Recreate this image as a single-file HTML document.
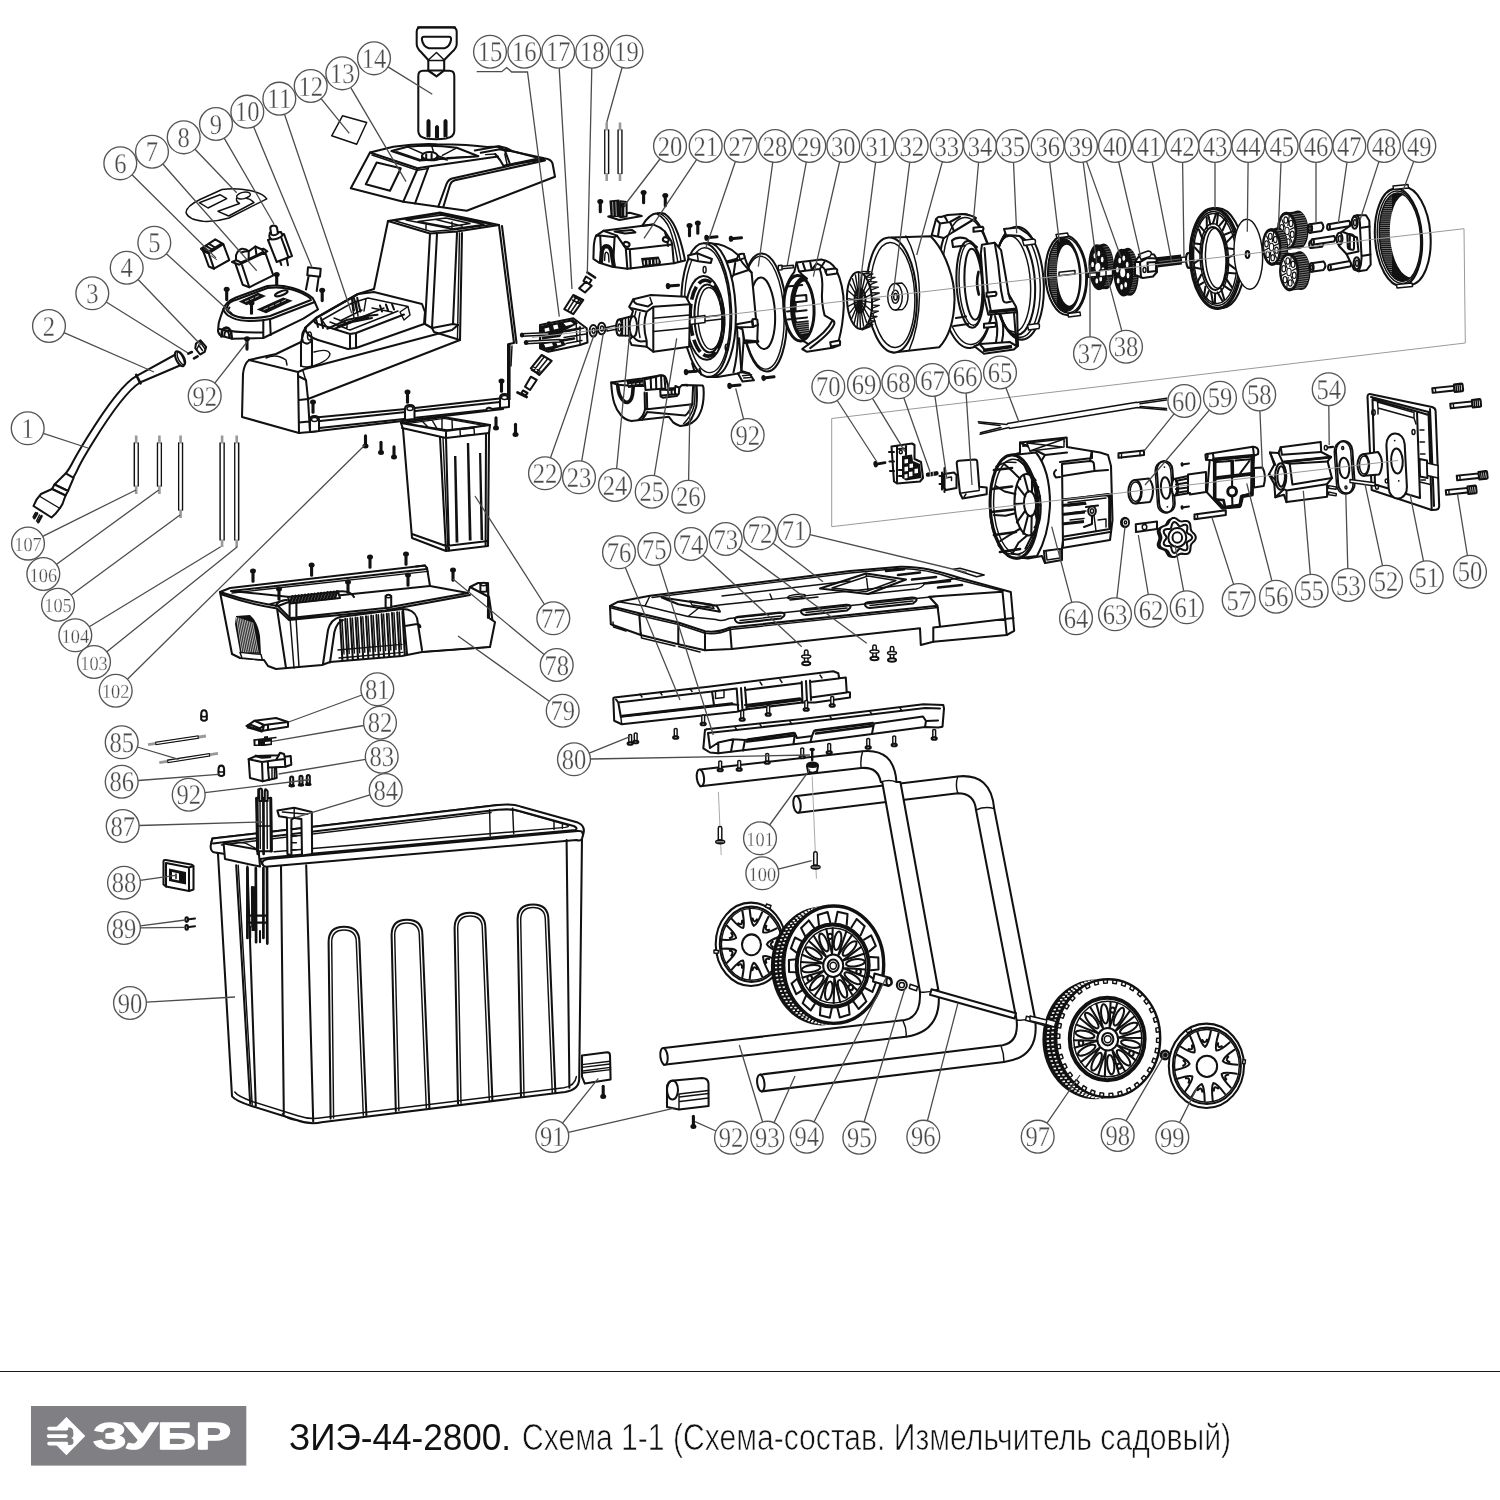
<!DOCTYPE html>
<html lang="ru"><head><meta charset="utf-8"><title>ЗИЭ-44-2800. Схема 1-1</title>
<style>
html,body{margin:0;padding:0;background:#fff;}
body{width:1500px;height:1500px;overflow:hidden;position:relative;font-family:"Liberation Sans",sans-serif;}
svg{position:absolute;left:0;top:0;display:block;}
.gs{filter:grayscale(1);}
.k{fill:none;stroke:#111;stroke-width:1.45;stroke-linecap:round;stroke-linejoin:round;}
.k2{fill:none;stroke:#111;stroke-width:2.05;stroke-linecap:round;stroke-linejoin:round;}
.k3{fill:none;stroke:#111;stroke-width:2.7;stroke-linecap:round;stroke-linejoin:round;}
.t{fill:none;stroke:#222;stroke-width:0.9;stroke-linecap:round;stroke-linejoin:round;}
.w{fill:#fff;stroke:#111;stroke-width:1.45;stroke-linecap:round;stroke-linejoin:round;}
.w2{fill:#fff;stroke:#111;stroke-width:2.05;stroke-linecap:round;stroke-linejoin:round;}
.b{fill:#111;stroke:none;}
.ld{fill:none;stroke:#4c4c4c;stroke-width:1.3;}
.lc{fill:#fff;fill-opacity:0;stroke:#555;stroke-width:1.35;}
.ln{font-family:"Liberation Serif",serif;font-size:28.5px;fill:#4a4a4a;text-anchor:middle;stroke:#fff;stroke-width:0.3;text-rendering:geometricPrecision;}
.gb{fill:none;stroke:#9a9a9a;stroke-width:1;}
</style></head><body>
<svg width="1500" height="1500" viewBox="0 0 1500 1500">
<rect width="1500" height="1500" fill="#fff"/>
<!-- 00_defs.svg -->
<defs>
<!-- small vertical screw, head at origin, shaft down 10px -->
<g id="scr"><path d="M0 0.500V10.300" stroke="#111" stroke-width="3.100" stroke-linecap="round" fill="none"/><ellipse cx="0" cy="0" rx="3" ry="2.500" fill="#111"/></g>
<!-- small horizontal screw (axis-aligned w/ motor), head at origin, shaft to right -->
<g id="scrh"><path d="M0 0H10.5" stroke="#111" stroke-width="3" stroke-linecap="round" fill="none"/><ellipse cx="0" cy="0" rx="2.300" ry="3.100" fill="#111"/></g>
<g id="scru"><path d="M0 -0.500V-10.300" stroke="#111" stroke-width="3.100" stroke-linecap="round" fill="none"/><ellipse cx="0" cy="0" rx="3" ry="2.500" fill="#111"/></g>
</defs>
<!-- 01_cable.svg -->
<g id="cable">
<!-- cable 1 -->
<path class="k2" d="M136.7 375.8C123 383 106 407 86.7 438.3S73 464 65.8 473.3"/>
<path class="k2" d="M140 382.5C128 390 113 410 93.3 441.7S80 467 73.3 477.5"/>
<!-- sleeve 2 -->
<path class="k2" d="M136.7 375.8L175.5 354.5M140 382.5L181 365"/>
<path class="k3" d="M136.2 375L140.5 383.3"/>
<ellipse class="w2" cx="179.8" cy="358.8" rx="3.6" ry="8.2" transform="rotate(-27 179.8 358.8)"/>
<ellipse class="k" cx="181.3" cy="358.2" rx="3" ry="7.2" transform="rotate(-27 181.3 358.2)"/>
<!-- plug -->
<path class="w2" d="M65.8 473.3L54.5 484.5L68 491L73.6 477.8Z"/>
<path class="w2" d="M54.5 484.5L52 489L65.5 495.5L68 491Z"/>
<path class="w2" d="M52 489L41 494Q36 499 33.5 506L51.5 517.5Q58 512 62.5 504L65.5 495.5Z"/>
<path class="k" d="M40 496.5L60 508.5"/>
<path class="k3" d="M37 513.5L34.3 518.2M41.5 516.2L38.2 522"/>
<path class="k" d="M35.5 512.5L33 517M39.5 515L36.5 521" stroke="#fff" stroke-width=".7"/>
<!-- screws 3 / nut 4 -->
<path d="M188.3 353.6l3.6 -1.6M194 358.4l3.6 -2" stroke="#111" stroke-width="2.6" stroke-linecap="round" fill="none"/>
<path class="w2" d="M196 343.5l4.5 -3.2l5.6 6.6l-1.4 5l-4.6 2.6l-4.8 -6.4z"/>
<path class="k" d="M198.5 345l4 5.5M200.5 342.5l4.2 6.2M197 349l2 -4"/>
<!-- wires 103-107 -->
<g stroke="#999" stroke-width="2.6" fill="none"><path d="M136.2 435.5V494M159.4 435.5V494M180.6 435.5V518M222.1 435.5V547M236.7 435.5V547"/></g>
<g class="k"><path d="M134.3 443V486M138.2 443V486M157.5 443V486M161.3 443V486M178.7 443V510M182.5 443V510M220.1 443V540M224.1 443V540M234.8 443V540M238.7 443V540"/></g>
<g stroke="#fff" stroke-width="2.2" fill="none"><path d="M136.2 443.5V485.5M159.4 443.5V485.5M180.6 443.5V509.5M222.1 443.5V539.5M236.7 443.5V539.5"/></g>
</g>
<!-- 02_switches.svg -->
<g id="switches">
<!-- 8 label plate -->
<path class="k" d="M186 212.5Q186.500 206 200 199.500L222 189.500Q236 187.500 250 190.500Q263 193.500 266.800 198.800L229 218Q216 222 203 221.300Q188 219.500 186 212.500Z"/>
<path class="k" d="M199.300 202.700L220 194.700L226.700 198.700L208 208ZM218 211.300L239.500 203.500Q236 201.500 236.500 198.500 M218 211.300L228.700 216L254 202.500Q250 198.800 247 198.500"/>
<ellipse class="k" cx="243.500" cy="195.500" rx="7" ry="3.200" transform="rotate(-12 243.500 195.500)"/>
<!-- 6 rocker switch -->
<path class="w2" d="M203.300 251.300L208.800 266.500L214 268.700L229.300 260L223.300 244.200L215.300 239.300L201.300 248.700Z"/>
<path class="k2" d="M208.700 253.300L214 268.700M208.700 253.300L223.300 244.200M208.700 253.300L203.300 251.300M201.300 248.700L208.700 253.300"/>
<path class="k2" d="M201.300 249L207 252.500L222 243.500M203 247.500L209.500 251.500M206 245.800L212 249.500M209 243.800L215 247.500"/>
<path class="t" d="M211.500 256L216.500 259.500"/>
<!-- 7 switch -->
<path class="w2" d="M235.300 263.300L242.700 284.700L249.300 287.300L273.300 275.300L265.300 252.700Z"/>
<path class="k2" d="M242 265L249.300 287.300"/>
<path class="w2" d="M232 262L239.300 264.700L267.300 251.300L263.300 248.700Z"/>
<path class="w2" d="M236 260V255.300Q238 249.500 242 248.700Q246 248.500 248.700 251.300L255.300 246.500L262 249.500L263.300 252L248 259.500L241 262.500Z"/>
<path class="k2" d="M248.700 251.300V258.500M241.500 252.500Q245 251 248.700 251.300M255.300 246.500L256.500 255"/>
<!-- 9 push button -->
<path class="w2" d="M268 240L284 234L292 256L276.700 262Z"/>
<path class="k2" d="M280.500 235.500L288.500 257.500M284.500 246L286.500 251.500"/>
<path class="w2" d="M269.500 234.500Q268.500 238 272 239.500Q278 239.500 282.500 235.500L281 232L270 232.500Z"/>
<path class="w2" d="M270.300 228.500Q270 226 273.500 225.500Q276.500 225.500 277 228L278 233.500Q274 236.500 271.300 234.500Z"/>
<path class="k2" d="M280 260.700L281.300 265M286.700 258.500L288 265.300"/>
<!-- 10 capacitor -->
<path class="k2" d="M308 267.300L320.700 268.700L320 276.700L307.300 275.300ZM308.700 275.500L306 289.500M318.700 276.700L316.700 291"/>
<!-- 5 cover -->
<path class="w2" d="M223.300 309.300Q220 318 218.700 323.300L218 331.300Q219 335 221.300 336L232.700 338.700L263.300 338L303.300 318.700L318 309.300L314.700 302L312.700 298Q305 291.500 292.700 288Q280 284.500 267.300 286L236 297.500Q226 301.500 223.300 309.300Z"/>
<path class="k2" d="M223.300 309.300Q224 312 228 315.500Q236 320.500 246 320.700Q259 321.500 271.300 318.700L314.700 302"/>
<path class="k2" d="M226 308.500Q227 311.500 231 314Q238 318 247 318Q259 318.500 270 316L311 300M227 307.500Q228 301.500 237 299.500L267.500 288Q280 286.500 292 289.500Q303 292.500 310.500 298.500"/>
<path class="k2" d="M263.300 320.300V337.500M270 318.900L270.700 335M219.500 329Q235 333 262.500 332.500"/>
<path class="k3" d="M221.500 336.500Q221.500 327.500 226.500 327.500Q231.500 328 231.800 338.500"/>
<path class="k2" d="M224.300 336Q224.500 331 226.800 331Q229 331.500 229.300 337.500"/>
<path class="b" d="M238.700 301.500L258 292.800L266 296L246.700 305.300Z"/>
<path d="M245 301.800L259 295.600" stroke="#fff" stroke-width="0.700" stroke-dasharray="4 1.500" fill="none"/>

<path class="b" d="M256.700 309.500L283.300 297.500L292.700 300.700L266 313.300Z"/>
<path d="M263.500 309.800L286 299.800" stroke="#fff" stroke-width="0.700" stroke-dasharray="5 1.500" fill="none"/>

<ellipse class="k2" cx="281.300" cy="293.300" rx="6.700" ry="2" transform="rotate(-20 281.300 293.300)"/>
<path class="k2" d="M227.500 310.500L229.500 307.500M228 310.500L231.500 313.500"/>
<use href="#scr" x="226.700" y="289.300"/><use href="#scr" x="276.700" y="274.500"/><use href="#scr" x="322.200" y="290.300"/><use href="#scr" x="251.500" y="303"/><use href="#scr" x="247" y="338.800"/>
</g>
<!-- 03_top.svg -->
<g id="top">
<!-- 14 pusher -->
<path class="w2" d="M420.500 27.500H452.500Q456.700 27.500 456.700 32V44Q456.700 48 452 52L444.200 60V70.500H428.300V60L421 52Q416.700 48 416.700 44V32Q416.700 27.500 420.500 27.500Z"/>
<path class="k2" d="M418 27.200H455" stroke-width="2.600"/>
<path class="k2" d="M424 36.700H449Q451.500 36.700 451 40Q450 46.500 444.500 48.300H429Q423 46.500 422 40Q421.500 36.700 424 36.700Z"/>
<path class="k" d="M428.300 60L436.500 52.500L444.200 60M428.300 60.500H444.200M428.300 70L436.500 76L444.200 70"/>
<path class="w2" d="M423 70.800H428.500L436.500 76.500L444 70.800H449.500Q454.300 70.800 454.300 76V131Q454.300 137 446 138.500Q436 140 426 138.500Q418.300 137 418.300 131V76Q418.300 70.800 423 70.800Z"/>
<path class="k2" d="M427.500 136.500V121Q428.500 119 429.500 121V136.500M436 137.500V127Q437 125 438 127V137.500M444.500 136.500V121Q445.500 119 446.500 121V136.500"/>
<!-- 12 label -->
<path class="k" d="M342.500 115.800L366.700 122.500L356.700 144.200L331.700 135.800Z"/>
<!-- 13 top cover -->
<path class="w2" d="M370 152.500L393.300 146.700Q415 143.500 436.700 144.200Q470 144.500 487 147L499.500 146.500L503.500 149.500L544.200 158.300Q551 159 552.500 163.300L555 176.700L466.700 210.800L438.300 206.700L403.300 201.700L350.800 188.300Z"/>
<path class="k2" d="M370 152.500L417.500 168.300L428.300 166.500L498 156.500"/>
<path class="k" d="M372 155L417.500 170.300L428.300 168.500"/>
<path class="k2" d="M417.500 169L403.300 201.700M428.300 167.500L415 203.500M443.300 207L450 185Q451.500 181 455 180.300L545 160.500M438.300 206.700L446.500 184Q448.500 179.500 452 178.500L543 158.300"/>
<path class="k2" d="M376.700 162.500L400.800 168.300L390 190.800L365.800 184.200Z"/>
<path class="k2" d="M 391.4 151.0 L 419.6 160.6 L 478.4 156.2 L 456.8 147.8 Q 431.6 144.2 407.6 146.8 Z"/>
<path class="k" d="M 407.6 146.8 L 423.8 154.0 M 431.6 145.4 L 433.4 151.8 M 456.8 147.8 L 442.4 155.4 M 419.6 160.6 L 423.8 157.8 M 478.4 156.2 L 447.2 157.8 M 396.8 151.6 L 419.6 159.4"/>
<ellipse class="w2" cx="429.800" cy="155.800" rx="7.800" ry="3.900"/>
<path class="k2" d="M 422.0 155.8 L 422.0 159.0 Q 429.8 161.4 437.6 159.4 L 437.6 155.8 M 426.2 154.6 L 426.2 159.4 M 431.6 154.0 L 431.6 160.0"/>
<path class="k" d="M 437.6 157.6 L 447.2 160.0 M 437.6 155.8 L 444.8 158.2"/>
<path class="k2" d="M 474.8 150.4 L 498.8 146.2 L 506.0 148.0 L 512.0 151.0 L 544.4 159.4 M 480.8 152.8 L 500.0 149.2 L 504.8 150.4 L 509.6 163.0 M 495.2 154.0 L 500.0 160.0 L 503.6 166.0 L 507.2 164.8 L 542.0 160.0 M 500.0 149.2 L 498.8 146.2 M 504.8 150.4 L 512.0 151.0"/>
<path class="k" d="M 507.2 164.8 L 504.8 154.0 M 512.0 163.6 L 536.0 158.8 M 485.6 154.6 L 495.2 154.0"/>
<!-- 15/16 bracket -->
</g>
<!-- 04_housing.svg -->
<g id="housing">
<!-- tower -->
<path class="w2" d="M388 221L440 212.400L499 225L514 343L509 344V398L504 398L503 409L310 432L299 433L242 417L243 374Q244 364 249 360L276 354L301 342L305 328L316 318L358 294L374 289Z"/>
<path class="k2" d="M388 221L430 233.600L457 231.600L499 225M430 234L425 324M437 234L432 328M457 233L453 324M462 233L460 340M502 226L516.500 343"/>
<path class="k" d="M394 220.500L440 213.500L492 224.500L456 229.500L431 231.500ZM406 220L442 215L484 224.500L452 229ZM418 221.500L446 218L470 223.500L448 227ZM426 224.500V229M452 222V228M436 219.500L462 226"/>
<path class="k" d="M459.500 233L457.500 338"/>
<!-- step / bevel -->
<path class="k2" d="M425 324L432 328L453 324L458 325M432 328L434 332L460 340M424 324L356 348L348 349L318 340"/>
<!-- top front edge of lower body -->
<path class="k2" d="M249 360L298 372L305 369L452 330L458 325M298 372L299 433M298 376L306 380L308 399L460 340M308 399L310 432M299 400L308 399M299 422.500L309 421.500"/>
<path class="k" d="M303 371L306 381"/>
<!-- switch box -->
<path class="k2" d="M305 328L316 318L358 294L374 292L422 304L425 312L424 324M318 340Q306 336 305 328M318 324L350 334L356 333L404 314.500M316 318Q312 323 318 324M350 334V348M356 333V347.500"/>
<path class="k" d="M322 320L352 303L368 298L408 306.500L400 312L404 320M408 306.500L410 315L404 320M352 303L354 318M356 301L358 316M322 320L326 326M330 322L350 330L398 311M334 318L347 323L384 308M347 323V329M340 321L362 310M344 325L370 314M366 299L364 311M372 308L392 312M386 305L388 310"/>
<path class="k2" d="M316 319L318 327M321 318L323 328M327.300 328.700L346.500 320.100L366.800 315.900L377.500 314.800M334 329L352 322L372 318M351.900 298.800L354 310.500M357.200 297.700L360.400 311.600M354 298.300L357 311M380 305.500L382 311.500M386 304.500L388 310.500M392 304L394 309.500"/><path class="k3" d="M338 326.500L350 322M356 319.500L368 317.500"/>
<!-- cord inlet cylinder & recesses -->
<path class="k2" d="M301 342V366M312 340V366M306 328Q300 334 303 342Q308 346 312 340"/>
<ellipse class="k" cx="309.500" cy="336" rx="2" ry="4"/>
<path class="k" d="M314 352Q328 348 330 354Q329 362 306 368M266 358Q276 353 286 360L287 365M301 366Q306 368 312 366"/>
<!-- bottom frame -->
<path class="k2" d="M310 418L406 409L504 398M320 421L406 412L500 402M319 428L404 419L486 410Q488 406 492 409L500 408"/>
<path class="w2" d="M310 432V420Q310 416 314.500 416Q319 416 319 420V431Z"/><ellipse class="k" cx="314.500" cy="419.500" rx="3" ry="2"/>
<path class="w2" d="M405 420V409Q405 405 410 405Q414.500 405 414.500 409V419Z"/><ellipse class="k" cx="410" cy="408.500" rx="3" ry="2"/>
<path class="w2" d="M500 408V398Q500 394 504.500 394Q509 394 509 398V407Z"/><ellipse class="k" cx="504.500" cy="397.500" rx="3" ry="2"/>
<path d="M508.800 343.500V400" stroke="#111" stroke-width="3.600" fill="none"/>
<path class="k" d="M512 346L511 366"/>
<use href="#scr" x="313" y="402"/><use href="#scr" x="407.500" y="392"/><use href="#scr" x="501.500" y="381"/>
<use href="#scru" x="365.500" y="446"/><use href="#scru" x="381" y="452.500"/><use href="#scru" x="394" y="457"/><use href="#scru" x="496" y="428"/><use href="#scru" x="515.500" y="434.500"/>
</g>
<!-- 05_motor_a.svg -->
<g id="motorA">
<!-- wires 19 -->
<path d="M606.700 122.500V181M620 122.500V181" stroke="#999" stroke-width="2.600" fill="none"/>
<path class="k" d="M604.800 130V173.500M608.600 130V173.500M618.100 130V173.500M621.900 130V173.500"/>
<path d="M606.700 130.500V173M620 130.500V173" stroke="#fff" stroke-width="2.200" fill="none"/>
<!-- 20 bracket -->
<path class="w2" d="M 608.2 216.4 L 629.8 212.8 L 641.8 216.0 L 619.4 220.0 Z"/>
<path class="b" d="M 609.4 200.4 L 619.4 199.6 L 620.2 217.2 L 610.6 216.8 Z"/>
<path d="M 612.6 202.0 L 613.2 215.6 M 615.8 201.6 L 616.4 216.0" stroke="#fff" stroke-width="0.600" fill="none"/>
<path class="w2" d="M 620.2 201.2 L 626.6 202.0 L 626.6 216.4 L 620.2 217.2 Z"/>
<use href="#scr" x="600.300" y="201.500"/><use href="#scr" x="643.600" y="192.500"/><use href="#scr" x="665.300" y="195.500"/><use href="#scr" x="622.800" y="205"/><use href="#scr" x="689.500" y="225.500"/><use href="#scr" x="697.800" y="223"/>
<!-- 21 brush cover: disc behind -->
<path class="w2" d="M 642.6 225.2 Q 649.0 214.0 657.0 213.2 Q 661.8 212.4 665.0 214.0 Q 671.4 218.8 675.4 227.6 Q 681.0 239.6 685.0 260.4 L 673.8 263.2 L 641.0 238.0 Z"/>
<path class="k" d="M 660.2 213.4 Q 668.2 218.0 672.6 228.4 Q 677.8 241.2 681.0 261.2 M 657.0 214.0 Q 665.0 218.0 669.8 229.2 Q 674.6 242.0 677.8 262.0"/>
<!-- 21 box -->
<path class="w2" d="M 603.4 230.8 L 641.0 226.0 L 653.0 224.4 Q 660.2 226.8 665.0 231.6 L 671.4 241.2 L 672.2 244.4 L 673.8 263.2 L 627.4 268.8 L 612.2 266.8 L 599.4 262.8 L 593.4 258.8 L 593.8 246.0 Q 594.6 238.0 596.2 235.6 Z"/>
<path class="k2" d="M 672.2 244.4 L 629.8 249.2 L 625.8 248.4 L 617.0 235.6 L 603.4 230.8 M 625.8 248.4 L 627.4 268.8 M 629.8 249.2 L 630.8 268.4 M 600.2 235.6 L 601.4 262.0 M 614.6 237.2 L 613.0 266.0 M 617.0 235.6 L 614.6 237.2 L 600.2 235.6 L 596.2 235.6 M 653.0 224.4 L 641.0 226.0 M 614.6 231.6 L 632.2 230.0 L 635.4 232.4 L 625.0 233.6 Z M 665.0 231.6 L 668.2 246.0"/>
<path d="M 601.0 262.0 L 601.8 251.6 Q 603.0 246.4 606.2 246.2 Q 610.2 246.4 611.4 251.6 L 613.8 266.0" stroke="#111" stroke-width="4.200" fill="none" stroke-linecap="round"/>
<path class="k" d="M 604.6 260.4 L 605.0 254.0 Q 605.6 252.0 607.0 252.4 Q 608.4 253.2 608.6 255.6 L 609.0 262.0"/>
<path class="b" d="M 641.0 258.0 L 658.6 256.4 L 661.0 262.0 L 660.2 265.2 L 642.6 266.8 Z"/>
<path d="M 644.2 260.4 L 644.4 264.8 M 647.8 260.1 L 648.0 264.5 M 651.4 259.8 L 651.6 264.2 M 655.0 259.4 L 655.2 263.8 M 657.8 259.2 L 658.0 263.4" stroke="#fff" stroke-width="1.100" fill="none"/>
<ellipse class="w2" cx="626.600" cy="244.400" rx="3" ry="2.300" transform="rotate(20 626.600 244.400)"/><ellipse class="w2" cx="665.800" cy="239.600" rx="3" ry="2.300" transform="rotate(20 665.800 239.600)"/>
<!-- 17/18 upper brushes -->
<path class="k3" d="M587.500 272.500L595 277.500"/>
<path class="w2" d="M586 276.500L591.500 280L588.500 284.500L583.500 281Z"/>
<path class="w2" d="M579.200 288.300L585.800 281.700L591.700 285.800L585 292.500Z"/>
<path class="w2" d="M564.200 309.200L573.300 295L583.300 300L573.300 314.200Z"/>
<path class="k" d="M567.500 311L576.500 296.500M570.500 312.500L580 298.500M574 297L581 300.500L579 303.500L572.500 300"/>
<!-- lower brushes -->
<path class="w2" d="M530.800 368.300L541.700 355L551.700 360.800L539.200 375Z"/>
<path class="k" d="M534 370L544.500 356.500M537 372L548 358.500M531.500 370L538 373.500L540 371L533.500 367"/>
<path class="w2" d="M525 386.700L530.800 376.700L536.700 380L530 390Z"/>
<path class="w2" d="M523 390.500L527.500 393L525.500 395.500L521.500 393Z"/>
<path class="k3" d="M517.500 392.500L526.700 397"/>
<!-- 16 brush holder -->
<path class="w2" d="M540 325L573.300 318.300L586.700 328.300L587.500 342.500L580 345L548.300 351.700L540 348.300Z"/>
<path class="b" d="M540 326L573 319L578 323.500L564 331L560 337L542 339.500ZM541 342L562 339L566 345L548.500 351L541 348Z"/>
<path d="M544.500 328.500L549 327.500L549.500 331L545 332ZM553 325.500L557.500 324.500L558.500 328.500L554 329.500ZM563.500 323L571 321.700L573.500 324L566 326ZM544 344L552 342.700L553 346L545.500 347.500ZM556 342L560 341.500L561.500 344.500L557.500 345.500Z" fill="#fff"/>
<circle cx="549" cy="323.500" r="2.200" fill="#111"/><circle cx="552.500" cy="349" r="2.200" fill="#111"/>
<path class="k" d="M562 332L584 328M564 337.500L586 334M566 343.500L582 340.500M576 321L577 341M580 326.500V345"/>
<path class="k3" d="M566 331L580 328.500M562 340.500L574 338.500"/>
<path class="w" d="M522 333.800L549 332.500V335L522 336.300ZM526 341.300L560 339.500V342L526 343.800Z"/>
<ellipse class="b" cx="522" cy="335" rx="2.200" ry="2.600"/><ellipse class="b" cx="526" cy="342.500" rx="2.200" ry="2.600"/>
<!-- washers 22 23 -->
<ellipse class="w2" cx="593.300" cy="330.800" rx="3.700" ry="5.800"/><ellipse class="k" cx="593.600" cy="330.800" rx="1.500" ry="2.500"/>
<ellipse class="w2" cx="601.700" cy="328.500" rx="3.700" ry="5.800"/><ellipse class="k" cx="602" cy="328.500" rx="1.500" ry="2.500"/>
</g>
<!-- 05_motor_b.svg -->
<g id="motorB">
<!-- 28 disc (behind 27) -->
<ellipse class="w2" cx="764.200" cy="312.500" rx="22.500" ry="59" transform="rotate(-3 764.200 312.500)"/>
<ellipse class="k" cx="763.200" cy="312.700" rx="20.700" ry="56.500" transform="rotate(-3 763.200 312.700)"/>
<ellipse class="k2" cx="762.500" cy="313.300" rx="12.500" ry="35.800" transform="rotate(-3 762.500 313.300)"/>
<!-- 27 body (right part) -->
<path class="w2" d="M 707.4 243.7 Q 724.4 242.0 738.0 255.0 L 743.7 253.9 L 744.8 257.9 L 749.3 269.8 L 751.6 272.6 L 756.1 320.2 L 757.8 324.7 L 757.3 339.5 L 758.4 341.7 L 744.8 342.9 L 743.7 339.5 L 741.4 372.3 L 749.3 373.5 L 753.9 380.3 L 742.5 381.4 L 738.0 373.5 L 717.6 376.9 L 707.4 376.9 Z"/>
<path class="k2" d="M 731.2 278.3 L 733.5 274.9 L 749.3 269.8 M 731.2 278.3 Q 729.5 299.8 733.5 322.5 L 736.9 327.0 L 742.5 329.3 L 744.8 342.9 M 733.5 274.9 L 735.2 263.0 M 738.0 255.0 Q 740.8 262.4 751.6 272.6 M 739.1 338.3 L 741.4 372.3 M 738.0 373.5 L 742.5 371.2 L 749.3 373.5 M 742.5 329.3 L 743.7 339.5 M 736.9 327.0 Q 739.1 349.7 733.5 372.3"/>
<path class="w2" d="M 726.7 261.5 L 736.9 258.7 L 738.9 254.7 Q 741.4 253.3 743.9 254.0 L 744.8 257.9 L 738.0 260.4 L 727.8 262.6 Z"/>
<path class="w2" d="M 735.2 324.4 L 751.6 321.6 L 752.7 319.3 Q 755.2 318.6 757.3 319.7 L 757.8 324.7 L 752.7 327.0 L 738.0 327.2 Z"/>
<path class="k" d="M 738.9 254.7 L 740.0 259.6 M 752.7 319.3 L 753.6 326.8 M 736.9 258.7 L 738.0 260.4 M 751.6 321.6 L 752.7 327.0"/>
<path d="M 745.0 340.8 L 758.2 341.7" stroke="#111" stroke-width="3" fill="none"/>
<path class="k" d="M 742.5 375.7 L 751.6 374.8 M 743.7 378.0 L 752.5 377.4"/>
<ellipse class="w2" cx="710.800" cy="309.500" rx="24.900" ry="66.900" transform="rotate(-2.500 710.800 309.500)"/>
<ellipse class="w2" cx="706.300" cy="310" rx="24.900" ry="66.900" transform="rotate(-2.500 706.300 310)"/>
<ellipse class="k" cx="707.300" cy="310.200" rx="22.600" ry="62.500" transform="rotate(-2.500 707.300 310.200)"/>
<ellipse class="w2" cx="705.100" cy="317.900" rx="19.300" ry="41.900" transform="rotate(-2.500 705.100 317.900)"/>
<ellipse cx="706.800" cy="318.200" rx="16.600" ry="38" transform="rotate(-2.500 706.800 318.200)" fill="none" stroke="#111" stroke-width="3.600" stroke-dasharray="14 4"/>
<ellipse class="k2" cx="708.500" cy="318.500" rx="14" ry="34" transform="rotate(-2.500 708.500 318.500)"/>
<ellipse class="k" cx="710" cy="318.500" rx="12" ry="31" transform="rotate(-2.500 710 318.500)"/>
<path class="w2" d="M 688.1 255.6 L 697.2 253.3 L 711.9 259.0 L 710.8 263.0 L 698.3 261.3 L 688.7 259.0 Z"/><path class="k" d="M 697.2 253.3 L 698.3 261.3"/>
<ellipse class="k" cx="704.600" cy="269.800" rx="1.500" ry="3.200"/><ellipse class="k" cx="726.700" cy="347.400" rx="1.500" ry="3.200"/>
<path class="k2" d="M 692.1 363.3 L 694.4 371.2 M 699.5 368.9 L 701.2 374.6"/>
<!-- horizontal screws -->
<g transform="rotate(-5 712 237)"><use href="#scrh" x="706.500" y="237.300"/></g><g transform="rotate(-5 736 238)"><use href="#scrh" x="731" y="238.300"/></g>
<g transform="rotate(-5 672 285)"><use href="#scrh" x="668" y="285.700"/></g><g transform="rotate(-5 690 371)"><use href="#scrh" x="686" y="371.700"/></g>
<g transform="rotate(-5 734 385)"><use href="#scrh" x="729.500" y="385.500"/></g><g transform="rotate(-7 768 377)"><use href="#scrh" x="763.500" y="377.500"/></g>
<!-- 25 stator -->
<path class="w2" d="M629.200 306.700L633.300 299.200L650.800 295L685.800 296.700L690 304.200L689.200 346.700L653.300 351.700L646.700 346.700L631.700 345L629.200 340L633 336Q628 322 633 311Z"/>
<path class="k2" d="M631.700 308.300L646.700 311.700L653.300 306.700L690 304.200M653.300 306.700V351.700M633.300 299.200Q634 303 637 304L648 306.500L652 303.500M646.700 311.700Q642 325 646.700 341L646.700 346.700M633 336Q636 341 641 341.500L646.700 341"/>
<path class="k" d="M653.300 318.300L689.200 315M653.300 331.500L689.200 328M636 311Q632 323 636 335M640 312.500Q637 324 640 337.500M650 297.500L652 303.500"/>
<!-- 24 rotor commutator -->
<path class="w" d="M606.700 327.500L616.700 325.300V329.300L607 331Z"/>
<path class="w2" d="M619.200 319.500L631.700 316.300L633.300 335.800L620 335.500Z"/>
<ellipse class="w2" cx="619.200" cy="327.500" rx="3" ry="8"/>
<ellipse class="k" cx="619.400" cy="327.500" rx="1.400" ry="3.600"/>
<ellipse class="w2" cx="633.300" cy="326.500" rx="3.700" ry="10.300"/>
<path class="k" d="M622.500 319V335.500M625.500 318.200V335.700M628.500 317.500V335.800"/>
<!-- shaft into 27 -->
<path class="w" d="M690 317.500L705 315.500V322.500L690 324.500Z"/><path class="k" d="M695 316.800V323.800M705 317L722 315M705 321L722 319"/>
<!-- 29 screw -->
<path class="w" d="M778.300 265.500L782 265.200V269.700L778.300 270ZM782 266.200L793.300 265.200V267.700L782 268.700Z"/>
<!-- 30 shroud -->
<path class="w2" d="M 794.2 272.2 L 796.6 262.6 L 821.4 259.4 Q 831.0 261.0 835.8 269.0 Q 843.8 285.0 843.8 305.8 Q 843.0 325.0 839.0 339.4 L 839.8 345.0 L 832.6 347.8 L 807.0 351.8 L 802.2 349.0 L 808.6 344.2 Q 787.0 333.0 784.6 309.0 Q 783.0 285.0 794.2 272.2 Z"/>
<path class="w2" d="M 825.4 271.8 Q 825.0 269.8 827.0 269.4 L 835.0 268.4 Q 837.0 268.4 837.2 270.2 L 837.0 273.4 L 827.0 275.0 Z"/>
<path class="w2" d="M 830.2 342.2 L 839.0 340.6 Q 840.2 340.6 840.2 342.2 L 839.8 345.0 L 831.0 346.6 Z"/>
<path class="k2" d="M 796.6 262.6 L 799.0 271.4 L 819.8 269.0 L 824.6 261.8 M 799.0 271.4 Q 802.2 275.4 807.0 278.6 M 819.8 269.0 Q 823.0 278.6 822.2 289.8 Q 821.0 301.0 824.6 315.4 L 832.6 320.2 Q 835.0 321.8 834.2 324.2 Q 831.0 333.0 810.2 348.2 M 832.6 320.2 Q 826.2 333.0 808.6 344.2 M 826.2 271.4 Q 823.0 265.8 816.6 263.4 M 803.0 263.4 L 805.4 270.6 M 810.2 262.2 L 811.8 269.8 M 811.8 269.8 L 816.6 263.4"/>
<ellipse cx="799" cy="308.200" rx="15" ry="32.800" transform="rotate(-3 799 308.200)" fill="#fff" stroke="#111" stroke-width="3"/>
<clipPath id="c30"><ellipse cx="799" cy="308.200" rx="14" ry="31.800" transform="rotate(-3 799 308.200)"/></clipPath>
<g clip-path="url(#c30)"><ellipse cx="805.500" cy="309" rx="13" ry="30" transform="rotate(-3 805.500 309)" fill="none" stroke="#111" stroke-width="5"/><path class="b" d="M 795.0 321.8 L 808.6 320.2 L 809.4 335.4 L 801.4 337.0 L 795.0 329.8 Z"/><path d="M 795.8 323.8 L 809.0 322.2 M 796.0 325.8 L 809.2 324.2 M 796.6 327.8 L 809.2 326.2 M 798.2 329.8 L 809.4 328.2 M 799.0 331.8 L 809.4 330.2 M 800.6 333.8 L 809.4 332.2" stroke="#fff" stroke-width="0.500" fill="none"/><path class="k2" d="M 787.0 286.6 L 802.2 285.0 M 791.8 296.2 L 806.2 295.0 L 806.6 301.0 L 795.0 302.2 Z M 787.0 311.4 L 795.0 310.6 M 787.8 319.4 L 807.0 317.4 M 795.8 302.2 L 795.4 311.4 L 806.6 310.2"/></g>
<!-- 26 lower cover -->
<path class="w2" d="M 611.2 382.5 L 626.4 380.4 L 642.0 378.6 L 656.7 376.0 Q 661.9 374.3 664.5 376.0 L 665.8 377.8 L 668.0 385.1 L 668.4 388.6 L 679.3 387.7 L 681.9 385.1 L 702.7 385.6 L 703.5 387.7 Q 704.4 399.0 701.8 408.5 Q 699.2 416.3 695.7 419.8 Q 691.4 424.1 687.1 425.0 L 680.1 425.9 Q 675.8 424.6 673.2 422.4 L 668.9 416.8 L 642.0 419.8 L 631.6 421.1 Q 624.7 419.8 621.2 415.5 Q 616.0 409.4 614.3 403.3 Q 611.7 394.7 611.2 382.5 Z"/>
<path d="M 617.7 384.7 Q 618.2 392.9 620.3 396.4 Q 623.4 402.5 627.3 402.5 Q 631.2 401.6 632.5 394.7 L 633.3 386.0" stroke="#111" stroke-width="3.600" fill="none" stroke-linecap="round"/>
<path class="k2" d="M 611.2 382.5 L 617.7 384.7 L 633.3 386.0 L 643.7 386.0 M 644.6 392.5 L 645.0 409.4 Q 643.7 416.3 638.5 419.8 M 646.8 392.9 L 647.2 408.5 M 645.0 409.4 L 692.3 404.2 M 647.2 412.0 L 685.3 415.5 Q 689.7 412.0 692.3 404.2 L 693.1 386.0 M 696.6 386.0 Q 697.5 398.1 696.2 406.8 Q 694.0 414.6 691.4 418.9 Q 688.8 423.3 685.3 424.6 M 642.0 419.8 Q 645.5 415.5 647.2 412.0"/>
<path class="k" d="M 694.9 386.0 Q 695.3 398.1 694.0 405.9 Q 691.8 415.5 683.6 423.7"/>
<path class="b" d="M 626.4 380.8 L 643.7 378.9 L 643.9 386.0 L 628.1 387.9 Z"/>
<path d="M 628.6 384.7 L 643.3 383.0" stroke="#fff" stroke-width="0.800" stroke-dasharray="2.500 1.500" fill="none"/>
<path class="w2" d="M 644.6 379.5 L 656.7 376.5 Q 661.9 374.7 664.4 376.5 L 665.4 388.6 L 645.5 389.9 Z"/>
<path class="k2" d="M 650.7 378.2 L 651.1 389.0 M 655.9 376.9 L 656.3 388.6 M 661.1 376.0 L 661.5 388.6"/>
<path class="w2" d="M 660.2 389.5 L 660.6 396.4 L 662.8 397.7 L 676.7 396.0 L 678.8 393.8 L 679.3 387.7 L 675.4 386.0 L 674.9 389.5 L 668.0 389.9 Z"/>
<path class="k2" d="M 668.0 389.9 L 668.4 394.7 M 671.5 389.9 L 671.6 394.2 M 674.9 389.5 L 675.1 393.8 M 661.1 395.5 L 676.7 394.2"/>
<path class="k" d="M 683.2 384.7 L 687.1 384.5 L 687.1 386.0"/>
</g>
<!-- 07_gearrow.svg -->
<g id="gearrow">
<ellipse class="w2" cx="1019.2" cy="283.2" rx="24.5" ry="56.5" transform="rotate(-3.0 1019.2 283.2)" />
<ellipse class="k" cx="1017.5" cy="283.4" rx="22.6" ry="54.0" transform="rotate(-3.0 1017.5 283.4)" />
<ellipse class="k2" cx="1014.5" cy="283.8" rx="20.5" ry="51.0" transform="rotate(-3.0 1014.5 283.8)" />
<ellipse class="k" cx="1012.0" cy="284.0" rx="18.5" ry="48.0" transform="rotate(-3.0 1012.0 284.0)" />
<path class="w2" d="M1004 229L1018 227.500L1028 234L1034 240.500L1030 243L1020 236L1006 235Z"/>
<path class="w" d="M1022.500 240.500L1033 239Q1035.500 239 1035.500 241.500L1035 244L1024 245.500Z"/>
<path class="w" d="M1027.500 325L1037.500 323.500Q1039.500 323.500 1039.500 326L1039 328.500L1028.500 330Z"/>
<ellipse class="w2" cx="966.5" cy="281.0" rx="27.5" ry="67.0" transform="rotate(-3.0 966.5 281.0)" />
<path class="w2" d="M931.700 235.200L936 219.200Q938 216 941 217L947.700 214.900L962.700 213.900Q972 215 976 218L953 232L944 238Z"/>
<path class="k2" d="M936 219.200L940 223.500L950 222L960 216.500M940 223.500L938 236M950 222L954 231M944.500 216.200L947 220.500"/>
<ellipse class="k" cx="968.0" cy="281.0" rx="25.5" ry="63.5" transform="rotate(-3.0 968.0 281.0)" />
<ellipse class="w2" cx="970.2" cy="284.3" rx="13.6" ry="43.5" transform="rotate(-3.0 970.2 284.3)" />
<ellipse class="k" cx="971.2" cy="284.3" rx="12.0" ry="41.0" transform="rotate(-3.0 971.2 284.3)" />
<ellipse class="k2" cx="973.4" cy="284.3" rx="8.8" ry="35.5" transform="rotate(-3.0 973.4 284.3)" />
<path class="k3" d="M978.500 272Q975.500 283 978.800 294.500"/>
<path class="w2" d="M981.900 244.800L994.700 242.700L1001.100 250.200L1005.400 274.700L1008.600 293.900L1016 306.700L1017.100 312L988.300 314.700L984 296L980.800 253.400Z"/>
<path class="k2" d="M994.700 242.700L998 262L1001 290L1003 300Q1004 303 1007 302.500L1011 301.500M984.500 248L988 296L991 312M1008.600 293.900L1010 299"/>
<path d="M989 312L1016.500 309.300" stroke="#111" stroke-width="3.400" fill="none"/>
<path class="w2" d="M973.5 227.8L982.5 226.8Q984.5 228.9 982.5 230.8L973.5 231.8Z"/>
<path class="w2" d="M986.5 292.8L995.5 291.8Q997.5 293.9 995.5 295.8L986.5 296.8Z"/>
<path class="w2" d="M984.0 323.8L995.0 322.8Q997.0 324.9 995.0 326.8L984.0 327.8Z"/>
<path class="k2" d="M952 240.500Q957 236 966 238.500L977 247M952 240.500L953 247L965 245.500M956 318L966 316.500M954 326L968 324"/>
<path class="w2" d="M1014 313L1016.500 346L1009.600 341.900L979.800 344.100L974.400 346.200L984 353.700L1013.900 349.400L1018 346L1017.100 312Z"/>
<path d="M983 350.500L1012 346.500" stroke="#111" stroke-width="3.600" fill="none"/>
<path class="k2" d="M979.800 344.100L984 349M995 316Q999 328 996 342M1001 315.500Q1005 328 1002 341.500"/>
<ellipse class="w2" cx="1066.1" cy="275.2" rx="20.8" ry="40.0" transform="rotate(-3.0 1066.1 275.2)" />
<ellipse class="k" cx="1066.8" cy="275.2" rx="19.0" ry="37.8" transform="rotate(-3.0 1066.8 275.2)" />
<clipPath id="c36"><ellipse cx="1064.500" cy="275" rx="16.200" ry="36.500" transform="rotate(-3 1064.500 275)"/></clipPath>
<g clip-path="url(#c36)"><rect x="1040" y="230" width="50" height="90" fill="#111"/><ellipse cx="1068" cy="275.200" rx="11" ry="30.500" transform="rotate(-3 1068 275.200)" fill="#fff"/>
<path d="M1046 241.0h11M1046 243.1h11M1046 245.2h11M1046 247.3h11M1046 249.4h11M1046 251.5h11M1046 253.6h11M1046 255.7h11M1046 257.8h11M1046 259.9h11M1046 262.0h11M1046 264.1h11M1046 266.2h11M1046 268.3h11M1046 270.4h11M1046 272.5h11M1046 274.6h11M1046 276.7h11M1046 278.8h11M1046 280.9h11M1046 283.0h11M1046 285.1h11M1046 287.2h11M1046 289.3h11M1046 291.4h11M1046 293.5h11M1046 295.6h11M1046 297.7h11M1046 299.8h11M1046 301.9h11M1046 304.0h11M1046 306.1h11M1046 308.2h11M1046 310.3h11" stroke="#fff" stroke-width="0.4" fill="none"/></g>
<ellipse class="k" cx="1064.5" cy="275.0" rx="16.2" ry="36.5" transform="rotate(-3.0 1064.5 275.0)" />
<path class="w" d="M1056 234.500L1067.500 233L1068.500 236.500L1057 238ZM1068 313.500L1080 312L1080.500 315.500L1068.500 317Z"/>
<path class="w" d="M1059 272.300L1075 270.500V274L1059 275.800Z"/>
<path class="b" d="M1097.8 244.7L1104.8 243.9L1104.8 288.9L1097.8 289.7Z"/>
<ellipse class="b" cx="1104.8" cy="266.4" rx="9.3" ry="23.0" transform="rotate(-3.0 1104.8 266.4)" />
<ellipse class="b" cx="1097.8" cy="267.2" rx="9.3" ry="23.0" transform="rotate(-3.0 1097.8 267.2)" />
<path d="M1103.3 247.1l5.0 -0.8M1104.7 249.5l5.0 -0.8M1105.8 251.9l5.0 -0.8M1106.5 254.3l5.0 -0.8M1107.1 256.7l5.0 -0.8M1107.5 259.1l5.0 -0.8M1107.8 261.5l5.0 -0.8M1108.0 263.9l5.0 -0.8M1108.1 266.3l5.0 -0.8M1108.1 268.7l5.0 -0.8M1108.0 271.1l5.0 -0.8M1107.7 273.5l5.0 -0.8M1107.4 275.9l5.0 -0.8M1107.0 278.3l5.0 -0.8M1106.3 280.7l5.0 -0.8M1105.5 283.1l5.0 -0.8M1104.4 285.5l5.0 -0.8" stroke="#fff" stroke-width="0.35" fill="none"/>
<ellipse cx="1103.0" cy="270.0" rx="1.4" ry="2.7" fill="#fff"/>
<ellipse cx="1100.7" cy="278.8" rx="1.4" ry="2.7" fill="#fff"/>
<ellipse cx="1096.8" cy="280.9" rx="1.4" ry="2.7" fill="#fff"/>
<ellipse cx="1093.4" cy="274.9" rx="1.4" ry="2.7" fill="#fff"/>
<ellipse cx="1092.6" cy="264.4" rx="1.4" ry="2.7" fill="#fff"/>
<ellipse cx="1094.9" cy="255.6" rx="1.4" ry="2.7" fill="#fff"/>
<ellipse cx="1098.8" cy="253.5" rx="1.4" ry="2.7" fill="#fff"/>
<ellipse cx="1102.2" cy="259.5" rx="1.4" ry="2.7" fill="#fff"/>
<ellipse cx="1097.8" cy="267.2" rx="2.5" ry="4.5" fill="#fff"/>
<path class="w" d="M1088.300 273.300L1096.500 272.500V276.500L1088.300 277.300Z"/>
<path class="b" d="M1122.7 249.1L1129.1 248.3L1129.1 295.3L1122.7 296.1Z"/>
<ellipse class="b" cx="1129.1" cy="271.8" rx="9.5" ry="24.0" transform="rotate(-3.0 1129.1 271.8)" />
<ellipse class="b" cx="1122.7" cy="272.6" rx="9.5" ry="24.0" transform="rotate(-3.0 1122.7 272.6)" />
<path d="M1128.2 251.5l4.4 -0.8M1129.7 253.9l4.4 -0.8M1130.7 256.3l4.4 -0.8M1131.5 258.7l4.4 -0.8M1132.0 261.1l4.4 -0.8M1132.5 263.5l4.4 -0.8M1132.8 265.9l4.4 -0.8M1133.0 268.3l4.4 -0.8M1133.2 270.7l4.4 -0.8M1133.2 273.1l4.4 -0.8M1133.1 275.5l4.4 -0.8M1133.0 277.9l4.4 -0.8M1132.7 280.3l4.4 -0.8M1132.3 282.7l4.4 -0.8M1131.8 285.1l4.4 -0.8M1131.2 287.5l4.4 -0.8M1130.3 289.9l4.4 -0.8M1129.1 292.3l4.4 -0.8" stroke="#fff" stroke-width="0.35" fill="none"/>
<ellipse cx="1128.0" cy="275.5" rx="1.4" ry="2.8" fill="#fff"/>
<ellipse cx="1125.7" cy="284.7" rx="1.4" ry="2.8" fill="#fff"/>
<ellipse cx="1121.6" cy="286.9" rx="1.4" ry="2.8" fill="#fff"/>
<ellipse cx="1118.2" cy="280.7" rx="1.4" ry="2.8" fill="#fff"/>
<ellipse cx="1117.4" cy="269.7" rx="1.4" ry="2.8" fill="#fff"/>
<ellipse cx="1119.7" cy="260.5" rx="1.4" ry="2.8" fill="#fff"/>
<ellipse cx="1123.8" cy="258.3" rx="1.4" ry="2.8" fill="#fff"/>
<ellipse cx="1127.2" cy="264.5" rx="1.4" ry="2.8" fill="#fff"/>
<ellipse cx="1122.7" cy="272.6" rx="2.5" ry="4.7" fill="#fff"/>
<path class="w" d="M1099.500 270.300L1112.500 269V275.300L1099.500 276.600Z"/><path class="k" d="M1106 269.700V276"/>
<path class="w2" d="M1135 262L1138 257.500L1146 253.500L1154 254.500L1156.500 258.500L1157 272L1153 276.500L1143 278L1135 275Z"/><path class="k2" d="M1146 253.500L1147 258L1156.500 258.500M1147 258L1140 262L1135 262M1140 262L1141 277.500M1147.500 262.500L1156 262V271L1148 272Z"/><ellipse class="k" cx="1144.500" cy="270" rx="1.500" ry="2.500"/>
<path class="w" d="M1138.500 254.500L1148 251Q1151 251 1151.500 253.500L1150 256.500L1141 259.500Z"/>
<path class="b" d="M1156.500 257.300L1181 254.600L1182 264.500L1157.500 267.500Z"/><path d="M1158.500 261.500L1180.500 259" stroke="#fff" stroke-width="0.35" fill="none"/>
<path class="w" d="M1181 257.500L1187 256.800V261.500L1181.500 262.200Z"/>
<ellipse class="w2" cx="1188.7" cy="260.5" rx="2.6" ry="7.6" transform="rotate(-3.0 1188.7 260.5)" />
<ellipse class="w2" cx="1219.5" cy="258.0" rx="25.0" ry="50.0" transform="rotate(-3.0 1219.5 258.0)" />
<ellipse class="" cx="1215.5" cy="258.5" rx="25.0" ry="50.0" transform="rotate(-3.0 1215.5 258.5)" fill="#fff" stroke="#111" stroke-width="3.2"/>
<ellipse class="k" cx="1215.5" cy="258.5" rx="23.0" ry="47.0" transform="rotate(-3.0 1215.5 258.5)" />
<ellipse class="k2" cx="1214.0" cy="258.5" rx="12.2" ry="31.5" transform="rotate(-3.0 1214.0 258.5)" />
<ellipse class="k" cx="1216.5" cy="258.2" rx="11.0" ry="30.0" transform="rotate(-3.0 1216.5 258.2)" />
<path class="k2" d="M1228.0 263.7L1236.3 269.6M1227.0 272.8L1235.8 273.5M1225.7 278.2L1232.0 287.4M1223.2 285.2L1230.7 290.4M1221.1 288.8L1224.3 299.5M1217.6 292.4L1222.5 301.0M1215.1 293.4L1214.9 303.5M1211.2 292.8L1213.0 303.2M1208.8 291.1L1205.7 298.5M1205.5 286.5L1204.0 296.5M1203.6 282.3L1198.4 285.6M1201.4 274.6L1197.3 282.3M1200.4 268.8L1194.4 267.4M1199.8 259.5L1194.1 263.4M1200.0 253.3L1194.7 247.4M1201.0 244.2L1195.2 243.5M1202.3 238.8L1199.0 229.6M1204.8 231.8L1200.3 226.6M1206.9 228.2L1206.7 217.5M1210.4 224.6L1208.5 216.0M1212.9 223.6L1216.1 213.5M1216.8 224.2L1218.0 213.8M1219.2 225.9L1225.3 218.5M1222.5 230.5L1227.0 220.5M1224.4 234.7L1232.6 231.4M1226.6 242.4L1233.7 234.7M1227.6 248.2L1236.6 249.6M1228.2 257.5L1236.9 253.6"/>
<ellipse class="k" cx="1214.3" cy="258.5" rx="14.2" ry="35.0" transform="rotate(-3.0 1214.3 258.5)" />
<ellipse class="k" cx="1215.2" cy="258.5" rx="21.5" ry="45.0" transform="rotate(-3.0 1215.2 258.5)" />
<ellipse class="w" cx="1248.3" cy="254.2" rx="14.2" ry="35.0" transform="rotate(-3.0 1248.3 254.2)" />
<ellipse class="k2" cx="1247.500" cy="254.500" rx="1.800" ry="3.400"/>
<path class="b" d="M1287.0 212.4L1298.5 211.0L1298.5 248.2L1287.0 249.6Z"/>
<ellipse class="b" cx="1298.5" cy="229.6" rx="9.9" ry="19.2" transform="rotate(-3.0 1298.5 229.6)" />
<path d="M1292.2 214.6l10.3 -1.4M1293.8 216.8l10.3 -1.4M1294.9 219.0l10.3 -1.4M1295.7 221.2l10.3 -1.4M1296.3 223.4l10.3 -1.4M1296.7 225.6l10.3 -1.4M1297.0 227.8l10.3 -1.4M1297.1 230.0l10.3 -1.4M1297.1 232.2l10.3 -1.4M1296.9 234.4l10.3 -1.4M1296.7 236.6l10.3 -1.4M1296.2 238.8l10.3 -1.4M1295.6 241.0l10.3 -1.4M1294.8 243.2l10.3 -1.4M1293.7 245.4l10.3 -1.4" stroke="#fff" stroke-width="0.45" fill="none"/>
<ellipse class="b" cx="1287.0" cy="231.0" rx="9.9" ry="19.2" transform="rotate(-3.0 1287.0 231.0)" />
<ellipse class="" cx="1287.0" cy="231.0" rx="8.1" ry="16.4" transform="rotate(-3.0 1287.0 231.0)" fill="#fff"/>
<ellipse class="" cx="1287.0" cy="231.0" rx="8.1" ry="16.4" transform="rotate(-3.0 1287.0 231.0)" fill="none" stroke="#111" stroke-width="1"/>
<ellipse cx="1292.2" cy="234.3" rx="1.9" ry="3.2" fill="#fff" stroke="#111" stroke-width="1.1"/>
<ellipse cx="1288.2" cy="241.9" rx="1.9" ry="3.2" fill="#fff" stroke="#111" stroke-width="1.1"/>
<ellipse cx="1283.0" cy="238.6" rx="1.9" ry="3.2" fill="#fff" stroke="#111" stroke-width="1.1"/>
<ellipse cx="1281.8" cy="227.7" rx="1.9" ry="3.2" fill="#fff" stroke="#111" stroke-width="1.1"/>
<ellipse cx="1285.8" cy="220.1" rx="1.9" ry="3.2" fill="#fff" stroke="#111" stroke-width="1.1"/>
<ellipse cx="1291.0" cy="223.4" rx="1.9" ry="3.2" fill="#fff" stroke="#111" stroke-width="1.1"/>
<ellipse cx="1287.0" cy="231.0" rx="2.2" ry="3.7" fill="#fff" stroke="#111" stroke-width="1.1"/>
<path d="M1288.9 234.8L1292.3 242.8M1286.2 236.0L1284.7 246.4M1284.3 232.2L1279.4 234.6M1285.1 227.2L1281.7 219.2M1287.8 226.0L1289.3 215.6M1289.7 229.8L1294.6 227.4" stroke="#111" stroke-width="1.2" fill="none"/>
<path class="b" d="M1271.5 228.7L1278.5 227.9L1278.5 264.5L1271.5 265.3Z"/>
<ellipse class="b" cx="1278.5" cy="246.2" rx="9.6" ry="18.9" transform="rotate(-3.0 1278.5 246.2)" />
<path d="M1276.6 230.9l5.8 -0.8M1278.2 233.1l5.8 -0.8M1279.2 235.3l5.8 -0.8M1280.0 237.5l5.8 -0.8M1280.6 239.7l5.8 -0.8M1280.9 241.9l5.8 -0.8M1281.2 244.1l5.8 -0.8M1281.3 246.3l5.8 -0.8M1281.3 248.5l5.8 -0.8M1281.1 250.7l5.8 -0.8M1280.8 252.9l5.8 -0.8M1280.4 255.1l5.8 -0.8M1279.7 257.3l5.8 -0.8M1278.9 259.5l5.8 -0.8M1277.7 261.7l5.8 -0.8" stroke="#fff" stroke-width="0.45" fill="none"/>
<ellipse class="b" cx="1271.5" cy="247.0" rx="9.6" ry="18.9" transform="rotate(-3.0 1271.5 247.0)" />
<ellipse class="" cx="1271.5" cy="247.0" rx="7.8" ry="16.1" transform="rotate(-3.0 1271.5 247.0)" fill="#fff"/>
<ellipse class="" cx="1271.5" cy="247.0" rx="7.8" ry="16.1" transform="rotate(-3.0 1271.5 247.0)" fill="none" stroke="#111" stroke-width="1"/>
<ellipse cx="1276.5" cy="250.2" rx="1.8" ry="3.1" fill="#fff" stroke="#111" stroke-width="1.1"/>
<ellipse cx="1272.7" cy="257.7" rx="1.8" ry="3.1" fill="#fff" stroke="#111" stroke-width="1.1"/>
<ellipse cx="1267.7" cy="254.5" rx="1.8" ry="3.1" fill="#fff" stroke="#111" stroke-width="1.1"/>
<ellipse cx="1266.5" cy="243.8" rx="1.8" ry="3.1" fill="#fff" stroke="#111" stroke-width="1.1"/>
<ellipse cx="1270.3" cy="236.3" rx="1.8" ry="3.1" fill="#fff" stroke="#111" stroke-width="1.1"/>
<ellipse cx="1275.3" cy="239.5" rx="1.8" ry="3.1" fill="#fff" stroke="#111" stroke-width="1.1"/>
<ellipse cx="1271.5" cy="247.0" rx="2.2" ry="3.7" fill="#fff" stroke="#111" stroke-width="1.1"/>
<path d="M1273.3 250.8L1276.6 258.6M1270.7 251.9L1269.3 262.1M1268.9 248.1L1264.2 250.5M1269.7 243.2L1266.4 235.4M1272.3 242.1L1273.7 231.9M1274.1 245.9L1278.8 243.5" stroke="#111" stroke-width="1.2" fill="none"/>
<path class="b" d="M1289.0 253.2L1300.5 251.8L1300.5 289.4L1289.0 290.8Z"/>
<ellipse class="b" cx="1300.5" cy="270.6" rx="9.9" ry="19.4" transform="rotate(-3.0 1300.5 270.6)" />
<path d="M1294.2 255.4l10.3 -1.4M1295.8 257.6l10.3 -1.4M1296.9 259.8l10.3 -1.4M1297.7 262.0l10.3 -1.4M1298.3 264.2l10.3 -1.4M1298.7 266.4l10.3 -1.4M1298.9 268.6l10.3 -1.4M1299.1 270.8l10.3 -1.4M1299.1 273.0l10.3 -1.4M1299.0 275.2l10.3 -1.4M1298.7 277.4l10.3 -1.4M1298.3 279.6l10.3 -1.4M1297.7 281.8l10.3 -1.4M1297.0 284.0l10.3 -1.4M1295.9 286.2l10.3 -1.4M1294.3 288.4l10.3 -1.4" stroke="#fff" stroke-width="0.45" fill="none"/>
<ellipse class="b" cx="1289.0" cy="272.0" rx="9.9" ry="19.4" transform="rotate(-3.0 1289.0 272.0)" />
<ellipse class="" cx="1289.0" cy="272.0" rx="8.1" ry="16.6" transform="rotate(-3.0 1289.0 272.0)" fill="#fff"/>
<ellipse class="" cx="1289.0" cy="272.0" rx="8.1" ry="16.6" transform="rotate(-3.0 1289.0 272.0)" fill="none" stroke="#111" stroke-width="1"/>
<ellipse cx="1294.2" cy="275.3" rx="1.9" ry="3.2" fill="#fff" stroke="#111" stroke-width="1.1"/>
<ellipse cx="1290.2" cy="283.0" rx="1.9" ry="3.2" fill="#fff" stroke="#111" stroke-width="1.1"/>
<ellipse cx="1285.0" cy="279.7" rx="1.9" ry="3.2" fill="#fff" stroke="#111" stroke-width="1.1"/>
<ellipse cx="1283.8" cy="268.7" rx="1.9" ry="3.2" fill="#fff" stroke="#111" stroke-width="1.1"/>
<ellipse cx="1287.8" cy="261.0" rx="1.9" ry="3.2" fill="#fff" stroke="#111" stroke-width="1.1"/>
<ellipse cx="1293.0" cy="264.3" rx="1.9" ry="3.2" fill="#fff" stroke="#111" stroke-width="1.1"/>
<ellipse cx="1289.0" cy="272.0" rx="2.2" ry="3.8" fill="#fff" stroke="#111" stroke-width="1.1"/>
<path d="M1290.9 275.9L1294.3 284.0M1288.2 277.0L1286.7 287.6M1286.3 273.2L1281.4 275.6M1287.1 268.1L1283.7 260.0M1289.8 267.0L1291.3 256.4M1291.7 270.8L1296.6 268.4" stroke="#111" stroke-width="1.2" fill="none"/>
<path class="w2" d="M1310.0 224.2L1321.5 222.5Q1325.3 226.8 1321.5 231.0L1310.0 232.8Z"/>
<ellipse class="w2" cx="1310.0" cy="228.5" rx="2.1" ry="4.2"/>
<ellipse class="k" cx="1310" cy="228.500" rx="1" ry="2.200"/>
<path class="w2" d="M1311.0 241.0L1322.0 239.7Q1325.2 243.2 1322.0 246.7L1311.0 248.0Z"/>
<ellipse class="w2" cx="1311.0" cy="244.5" rx="1.8" ry="3.5"/>
<path class="w2" d="M1311.5 263.2L1323.5 261.4Q1327.3 265.7 1323.5 269.9L1311.5 271.8Z"/>
<ellipse class="w2" cx="1311.5" cy="267.5" rx="2.1" ry="4.2"/>
<ellipse class="k" cx="1311.500" cy="267.500" rx="1" ry="2.200"/>
<path class="w2" d="M1328.5 224.2L1349.0 220.8Q1351.5 223.5 1349.0 226.3L1328.5 229.8Z"/>
<ellipse class="w2" cx="1328.5" cy="227.0" rx="1.4" ry="2.8"/>
<path class="w2" d="M1312.5 239.2L1334.0 236.0Q1336.5 238.8 1334.0 241.5L1312.5 244.8Z"/>
<ellipse class="w2" cx="1312.5" cy="242.0" rx="1.4" ry="2.8"/>
<path class="w2" d="M1329.5 264.8L1350.0 261.1Q1352.5 263.8 1350.0 266.6L1329.5 270.2Z"/>
<ellipse class="w2" cx="1329.5" cy="267.5" rx="1.4" ry="2.8"/>
<path class="w2" d="M1354 216L1357.300 215.300L1366 215.300L1369.300 220.700L1370.700 264.700L1366.700 270L1358.700 271.300L1354 269.500L1346.500 254L1339 246Q1335.500 238 1340.500 232.500L1350 226Z"/>
<path class="k2" d="M1357.300 215.300Q1360.500 219 1360 228L1361.500 256Q1362 264 1358.700 271.300M1360 228L1369.500 226.500M1361.500 256L1370.500 254.500M1343 232L1357 237.500L1358.500 251.500L1346.500 254"/>
<ellipse class="w2" cx="1354.700" cy="222.700" rx="3" ry="6"/><ellipse class="k" cx="1355" cy="222.700" rx="1.400" ry="3"/>
<ellipse class="w2" cx="1339.500" cy="238.700" rx="3" ry="6"/><ellipse class="k" cx="1339.800" cy="238.700" rx="1.400" ry="3"/>
<ellipse class="w2" cx="1356.700" cy="263.300" rx="3" ry="6"/><ellipse class="k" cx="1357" cy="263.300" rx="1.400" ry="3"/>
<path class="k2" d="M1347.300 235.500Q1347.300 233.500 1349.500 234L1352.500 234.700Q1354 235.300 1354 237V248Q1354 250 1352 249.700L1349 249Q1347.800 248.700 1347.800 247ZM1349.800 235V249"/>
<ellipse class="w2" cx="1407.0" cy="236.0" rx="23.5" ry="48.8" transform="rotate(-4.0 1407.0 236.0)" />
<ellipse class="w2" cx="1398.5" cy="237.3" rx="23.5" ry="48.8" transform="rotate(-4.0 1398.5 237.3)" />
<ellipse class="k" cx="1399.5" cy="237.2" rx="22.0" ry="46.3" transform="rotate(-4.0 1399.5 237.2)" />
<clipPath id="c49"><ellipse cx="1400" cy="237.200" rx="20.500" ry="44.300" transform="rotate(-4 1400 237.200)"/></clipPath>
<g clip-path="url(#c49)"><rect x="1375" y="185" width="50" height="105" fill="#111"/><ellipse cx="1409.500" cy="235.800" rx="19.500" ry="42" transform="rotate(-4 1409.500 235.800)" fill="#fff"/>
<path d="M1378 196.0h14M1378 198.1h14M1378 200.2h14M1378 202.3h14M1378 204.4h14M1378 206.5h14M1378 208.6h14M1378 210.7h14M1378 212.8h14M1378 214.9h14M1378 217.0h14M1378 219.1h14M1378 221.2h14M1378 223.3h14M1378 225.4h14M1378 227.5h14M1378 229.6h14M1378 231.7h14M1378 233.8h14M1378 235.9h14M1378 238.0h14M1378 240.1h14M1378 242.2h14M1378 244.3h14M1378 246.4h14M1378 248.5h14M1378 250.6h14M1378 252.7h14M1378 254.8h14M1378 256.9h14M1378 259.0h14M1378 261.1h14M1378 263.2h14M1378 265.3h14M1378 267.4h14M1378 269.5h14M1378 271.6h14M1378 273.7h14M1378 275.8h14M1378 277.9h14" stroke="#fff" stroke-width="0.4" fill="none"/></g>
<ellipse class="k" cx="1400.0" cy="237.2" rx="20.5" ry="44.3" transform="rotate(-4.0 1400.0 237.2)" />
<path class="w" d="M1393 186L1408 184.500L1408.500 188L1393.500 189.500ZM1396.500 284.500L1412 283L1412.500 286.500L1397 288Z"/>
</g>
<!-- 07b_cyl33.svg -->
<g id="cyl33">
<!-- 33 cylinder -->
<path class="w2" d="M891.700 237.500L930.700 236.300C946 252 955 280 954.500 300C954 322 948 338 939.200 347.300L893 352.500Z"/>
<ellipse class="w2" cx="891.700" cy="295" rx="25" ry="57.500" transform="rotate(-3 891.700 295)"/>
<ellipse class="k" cx="892.700" cy="295" rx="22" ry="52.500" transform="rotate(-3 892.700 295)"/>
<path class="k" d="M906 236Q919 260 919.500 295Q919 328 909 350.500"/>
<!-- 32 bearing -->
<path class="w" d="M895 283.500L902 283Q908 288 908 296Q908 305 902.500 309.500L895.500 310Z"/>
<ellipse class="w" cx="895" cy="296.700" rx="7.300" ry="13.300"/><ellipse class="k" cx="895.300" cy="296.700" rx="3.600" ry="6.600"/><ellipse class="k" cx="895.500" cy="296.700" rx="1.800" ry="3.300"/>
</g>
<!-- 07c_fan.svg -->
<g id="fan31">
<path class="w" d="M861.7 271.4l8.5 0.3l-8 3.2M864.3 273.6l8.5 0.3l-8 3.2M866.5 277.1l8.5 0.3l-8 3.2M868.4 281.6l8.5 0.3l-8 3.2M869.8 286.9l8.5 0.3l-8 3.2M870.7 292.7l8.5 0.3l-8 3.2M871.0 298.9l8.5 0.3l-8 3.2M870.7 305.1l8.5 0.3l-8 3.2M869.8 310.9l8.5 0.3l-8 3.2M868.4 316.2l8.5 0.3l-8 3.2M866.5 320.7l8.5 0.3l-8 3.2M864.3 324.2l8.5 0.3l-8 3.2M861.7 326.4l8.5 0.3l-8 3.2"/>
<ellipse class="w2" cx="859.5" cy="300.5" rx="12.5" ry="28.5" transform="rotate(-3 859.5 300.5)"/>
<path class="k" d="M861.7 300.8L871.2 302.4M861.6 302.2L870.5 310.0M861.3 303.5L868.9 316.8M860.8 304.5L866.5 322.3M860.3 305.2L863.6 326.1M859.7 305.5L860.4 327.7M859.0 305.4L857.0 327.2M858.4 304.9L853.9 324.5M857.9 304.0L851.2 319.8M857.6 302.9L849.2 313.6M857.4 301.6L848.1 306.3M857.3 300.2L847.8 298.6M857.4 298.8L848.5 291.0M857.7 297.5L850.1 284.2M858.2 296.5L852.5 278.7M858.7 295.8L855.4 274.9M859.3 295.5L858.6 273.3M860.0 295.6L862.0 273.8M860.6 296.1L865.1 276.5M861.1 297.0L867.8 281.2M861.4 298.1L869.8 287.4M861.6 299.4L870.9 294.7"/>
<ellipse class="k2" cx="860.0" cy="300.5" rx="5.5" ry="12" fill="none"/>
<ellipse class="b" cx="860.0" cy="300.5" rx="2.6" ry="5.6"/>
</g>
<!-- 08_lowrow.svg -->
<g id="lowrow">
<path class="k" d="M978.300 421.700L1007 424.500M980 434.200L1009 427.500M1007.500 423.500L1136.500 402.300M1009.500 428.500L1137.500 407.500M1137 402.500L1166.700 398.300M1137.500 407.500L1166.700 410"/>
<path class="k" d="M978.800 423L1000 425.500M980.500 432.800L1001 427.500M1140 403.800L1166.500 400M1140 406.500L1166.500 408.500"/>
<g transform="rotate(-9 880 463)"><path d="M875 463.500H885" stroke="#111" stroke-width="2.800" stroke-linecap="round" fill="none"/><ellipse class="b" cx="875.500" cy="463.500" rx="2.200" ry="3.200"/></g>
<path class="w2" d="M891.500 446.500L912 443.500L914.500 445V459L921 462L923 478L920 481.500L897 483.500L894 481.500Z"/>
<path class="b" d="M902 456L912 454.500L913 461L920 464L921.500 478L906 480.500L902 478Z"/>
<path d="M904.500 459.500L908 459V463L904.500 463.500ZM909.500 464L913 463.500V467.500L909.500 468ZM904.500 467L908 466.500V471L904.500 471.500ZM914.500 469L918 468.500V473L914.500 473.500ZM909 472L912.500 471.500V476L909 476.500ZM904.500 474.500L907.500 474V478L904.500 478.500Z" fill="#fff"/>
<path class="k2" d="M897 446V482M894 452H889M894 461.500H889.500M894 471H890M899 449L904 448.500M906 446V455M899 470H902M899 476H902"/>
<ellipse class="k" cx="900.800" cy="452" rx="1.500" ry="1.800"/>
<path d="M928 474.600L936.500 473.300" stroke="#111" stroke-width="4.400" stroke-linecap="round"/><path d="M930.300 472V477M933.300 471.500V476.500" stroke="#fff" stroke-width="0.700"/>
<path class="w2" d="M944 474L954 472.500L956.500 475V488L946 490L944 488Z"/><path class="k2" d="M944.500 468V492M942 472.500V489.500M942 476H939.500M942 484H939.500"/><path class="k" d="M948 477.500L951.500 477V480.500"/>
<path class="w2" d="M956.700 463Q956.700 461 959 460.800L975 459.500Q977 459.500 977.200 461.500L979.200 486.700L986.700 487.500V494.200L962.500 498.500L960 493.300Z"/><path class="k" d="M960 493.300L979.200 490.500V486.700M964 497L966 494"/>
<path class="w2" d="M1020 442.500L1066.700 437.500L1067 447L1100 452.500L1108 455L1111 466L1112.500 520L1110 540L1062 548V560L1045 563L1042 556L1028 558.500L1008 556Q990 540 990 505Q991 470 1006 456L1020 453Z"/>
<path class="k2" d="M1020 442.500L1045 455L1040 463M1023 446L1064 441.500M1045 455L1067 452.500M1060 462L1092 458V452M1062 464L1063 546M1062 464L1090 461Q1094 461 1094 465L1094.500 471L1108 470M1090 461L1091.500 452.500M1094.500 471L1062.500 476M1056 470Q1052 473 1056 477.500L1060 477M1063 500L1108 494Q1110.500 494 1110.500 497L1110 529L1064 536.500M1062 548L1063 540L1110 532M1045 563L1044 551L1060 549"/>
<path d="M1062 505.500L1086 503M1062 514.500L1085 512M1062 524L1084 521.500" stroke="#111" stroke-width="3.200" fill="none"/><path class="k3" d="M1064 499.500L1106 495Q1109.500 495 1109.500 499V527"/>
<path class="k" d="M1068 502.500L1106 498M1068 506L1086 504M1070 513L1086 511M1070 520L1084 518.500M1094 515.500L1096 531M1098 520L1106 519V527"/>
<ellipse class="k2" cx="1092" cy="511" rx="3.800" ry="4.800"/><ellipse class="k" cx="1092" cy="511" rx="1.600" ry="2.200"/>
<path class="k2" d="M1086 507L1098 505.500M1092 516V524L1084 527"/>
<path class="w2" d="M1014 455L1036 452.500Q1050 470 1050 504Q1049 535 1037 556L1016 558.500Z"/>
<ellipse cx="1014.200" cy="506.700" rx="24" ry="51.700" transform="rotate(-3 1014.200 506.700)" fill="#fff" stroke="#111" stroke-width="3"/>
<ellipse class="k" cx="1015.200" cy="506.700" rx="21.500" ry="47.500" transform="rotate(-3 1015.200 506.700)"/>
<ellipse class="k2" cx="1027.600" cy="504.700" rx="13" ry="30.800" transform="rotate(-3 1027.600 504.700)"/>
<ellipse class="k2" cx="1030" cy="503.700" rx="6" ry="12.500" transform="rotate(-3 1030 503.700)"/>
<path class="k2" d="M1039.8 515.3L1038.2 522.7L1034.6 527.4M1034.8 511.3L1037.9 523.3M1034.9 530.3L1030.4 538.7L1025.4 548.6M1031.7 515.7L1031.3 534.2M1027.1 535.5L1018.5 542.8L1012.3 553.8M1028.0 515.5L1023.3 533.8M1019.6 529.0L1010.4 534.5L1000.3 541.0M1025.1 510.8L1016.9 522.3M1015.1 513.2L1005.5 515.7L994.0 515.1M1024.0 503.4L1014.6 504.0M1015.4 494.1L1004.6 491.5L995.8 486.0M1025.2 496.1L1017.3 486.1M1020.3 479.1L1012.4 471.3L1005.0 464.8M1028.3 491.7L1023.9 475.2M1028.1 473.9L1024.3 465.0L1018.1 459.6M1032.0 491.9L1031.9 475.6M1035.6 480.4L1032.4 476.0L1030.1 472.4M1034.9 496.6L1038.3 487.1M1040.1 496.2L1037.3 498.8L1036.4 498.3M1036.0 504.0L1040.6 505.4"/>
<path class="k3" d="M994 470L1012 468M991.500 489L1012 486.500M991 512L1013 509.500M994 535L1016 532M1000 552L1020 549"/>
<path class="k" d="M996 466.500L1006 462L1016 462.500M998 545L1004 553L1020 555"/>
<path class="w" d="M1046 551L1060 549V558L1047 560Z"/><path class="w" d="M1027 443L1064 439V447L1030 451Z"/><path class="k" d="M1027 443L1062 447M1030 451L1064 439"/>
<ellipse class="b" cx="1125" cy="522.500" rx="5" ry="5.800"/><ellipse cx="1125.500" cy="522.500" rx="2.600" ry="3.200" fill="#fff"/><ellipse class="k" cx="1125.500" cy="522.500" rx="1.200" ry="1.500"/>
<path class="w2" d="M1135.800 524.200L1157 521.500V529L1136 532Z"/><ellipse class="k" cx="1144.500" cy="527" rx="2.300" ry="2.600"/>
<path class="b" d="M1195.8 537.5L1195.5 539.0L1194.8 540.4L1193.8 541.6L1192.7 542.6L1191.7 543.6L1191.1 544.7L1190.7 545.9L1190.6 547.3L1190.4 548.9L1190.2 550.5L1189.6 552.0L1188.7 553.1L1187.5 553.8L1186.0 554.1L1184.5 554.0L1183.0 553.7L1181.7 553.6L1180.5 553.7L1179.4 554.1L1178.2 554.9L1177.0 555.8L1175.7 556.6L1174.2 557.1L1172.8 557.0L1171.5 556.4L1170.4 555.3L1169.5 554.0L1168.8 552.6L1168.1 551.4L1167.3 550.5L1166.2 549.8L1165.0 549.4L1163.6 548.9L1162.1 548.3L1160.9 547.4L1160.1 546.2L1159.7 544.7L1159.8 543.1L1160.2 541.6L1160.8 540.1L1161.2 538.8L1161.4 537.5L1161.2 536.2L1160.8 534.9L1160.2 533.4L1159.8 531.9L1159.7 530.3L1160.1 528.8L1160.9 527.6L1162.1 526.7L1163.6 526.1L1165.0 525.6L1166.2 525.2L1167.3 524.5L1168.1 523.6L1168.8 522.4L1169.5 521.0L1170.4 519.7L1171.5 518.6L1172.8 518.0L1174.2 517.9L1175.7 518.4L1177.0 519.2L1178.2 520.1L1179.4 520.9L1180.5 521.3L1181.7 521.4L1183.0 521.3L1184.5 521.0L1186.0 520.9L1187.5 521.2L1188.7 521.9L1189.6 523.0L1190.2 524.5L1190.4 526.1L1190.6 527.7L1190.7 529.1L1191.1 530.3L1191.7 531.4L1192.7 532.4L1193.8 533.4L1194.8 534.6L1195.5 536.0L1195.8 537.5 Z" transform="translate(-3 0.600)" stroke="#111" stroke-width="1.500"/>
<path class="w2" d="M1195.8 537.5L1195.5 539.0L1194.8 540.4L1193.8 541.6L1192.7 542.6L1191.7 543.6L1191.1 544.7L1190.7 545.9L1190.6 547.3L1190.4 548.9L1190.2 550.5L1189.6 552.0L1188.7 553.1L1187.5 553.8L1186.0 554.1L1184.5 554.0L1183.0 553.7L1181.7 553.6L1180.5 553.7L1179.4 554.1L1178.2 554.9L1177.0 555.8L1175.7 556.6L1174.2 557.1L1172.8 557.0L1171.5 556.4L1170.4 555.3L1169.5 554.0L1168.8 552.6L1168.1 551.4L1167.3 550.5L1166.2 549.8L1165.0 549.4L1163.6 548.9L1162.1 548.3L1160.9 547.4L1160.1 546.2L1159.7 544.7L1159.8 543.1L1160.2 541.6L1160.8 540.1L1161.2 538.8L1161.4 537.5L1161.2 536.2L1160.8 534.9L1160.2 533.4L1159.8 531.9L1159.7 530.3L1160.1 528.8L1160.9 527.6L1162.1 526.7L1163.6 526.1L1165.0 525.6L1166.2 525.2L1167.3 524.5L1168.1 523.6L1168.8 522.4L1169.5 521.0L1170.4 519.7L1171.5 518.6L1172.8 518.0L1174.2 517.9L1175.7 518.4L1177.0 519.2L1178.2 520.1L1179.4 520.9L1180.5 521.3L1181.7 521.4L1183.0 521.3L1184.5 521.0L1186.0 520.9L1187.5 521.2L1188.7 521.9L1189.6 523.0L1190.2 524.5L1190.4 526.1L1190.6 527.7L1190.7 529.1L1191.1 530.3L1191.7 531.4L1192.7 532.4L1193.8 533.4L1194.8 534.6L1195.5 536.0L1195.8 537.5 Z"/>
<path class="k2" d="M1192.2 537.5L1191.8 538.7L1191.0 539.7L1189.8 540.5L1188.5 541.2L1187.5 541.8L1187.0 542.4L1186.8 543.3L1187.0 544.5L1187.3 546.0L1187.4 547.5L1187.2 548.9L1186.6 549.9L1185.5 550.3L1184.2 550.2L1182.8 549.8L1181.6 549.1L1180.5 548.7L1179.7 548.6L1178.9 549.1L1178.2 550.0L1177.3 551.1L1176.3 552.2L1175.1 552.8L1174.0 552.9L1173.0 552.3L1172.3 551.2L1171.8 549.8L1171.4 548.3L1171.1 547.2L1170.6 546.4L1169.8 546.1L1168.7 546.0L1167.3 546.0L1165.9 545.8L1164.7 545.3L1163.9 544.4L1163.7 543.2L1164.1 541.8L1164.8 540.5L1165.7 539.4L1166.3 538.4L1166.6 537.5L1166.3 536.6L1165.7 535.6L1164.8 534.5L1164.1 533.2L1163.7 531.8L1163.9 530.6L1164.7 529.7L1165.9 529.2L1167.3 529.0L1168.7 529.0L1169.8 528.9L1170.6 528.6L1171.1 527.8L1171.4 526.7L1171.8 525.2L1172.3 523.8L1173.0 522.7L1174.0 522.1L1175.1 522.2L1176.3 522.8L1177.3 523.9L1178.2 525.0L1178.9 525.9L1179.7 526.4L1180.5 526.3L1181.6 525.9L1182.8 525.2L1184.2 524.8L1185.5 524.7L1186.6 525.1L1187.2 526.1L1187.4 527.5L1187.3 529.0L1187.0 530.5L1186.8 531.7L1187.0 532.6L1187.5 533.2L1188.5 533.8L1189.8 534.5L1191.0 535.3L1191.8 536.3L1192.2 537.5 Z"/>
<ellipse class="k2" cx="1177.300" cy="537.500" rx="9" ry="9.600"/><ellipse class="k2" cx="1177.300" cy="537.500" rx="4.800" ry="5.200"/>
<path class="w2" d="M1118.5 453.2L1144.0 450.4L1144.0 455.0L1118.5 457.8Z"/>
<path class="k" d="M1121.500 453V458M1140 451V455.800"/>
<path class="w2" d="M1194.5 514.4L1225.8 510.3L1225.8 515.1L1194.5 519.2Z"/>
<path class="k" d="M1197.500 514.300V519"/>
<path class="w2" d="M1135 480L1149 478.500Q1153 484 1153 490Q1153 497 1150 502L1136 503.400Z"/>
<ellipse class="w2" cx="1135" cy="491.700" rx="6.700" ry="11.700"/><ellipse class="k" cx="1135.500" cy="491.700" rx="5.300" ry="9.800"/>
<g transform="rotate(-4 1165.800 486.700)"><rect class="w2" x="1158" y="461" width="15.600" height="51.500" rx="7.800" ry="9"/><rect class="k" x="1156.300" y="461.500" width="15.600" height="51.500" rx="7.800" ry="9"/><ellipse class="k2" cx="1165.500" cy="488" rx="4.700" ry="10.800"/><circle class="b" cx="1165.800" cy="467" r="0.900"/><circle class="b" cx="1166" cy="507" r="0.900"/></g>
<g transform="rotate(-8 1185 464)"><path d="M1182 464H1189" stroke="#111" stroke-width="2" stroke-linecap="round"/><ellipse class="b" cx="1182" cy="464" rx="1.500" ry="2.300"/></g>
<g transform="rotate(-8 1185 507)"><path d="M1182 507H1189" stroke="#111" stroke-width="2" stroke-linecap="round"/><ellipse class="b" cx="1182" cy="507" rx="1.500" ry="2.300"/></g>
<path class="w2" d="M1174 479L1188 476V474.500L1206 472V492L1190 494.500V493L1175 495.500Z"/><ellipse class="w2" cx="1174.500" cy="487.200" rx="2.800" ry="8.200"/><path class="k2" d="M1178 480.500L1188 478.500M1178 492.500L1188 491M1188 476V493M1176 484.500L1188 482.500M1176 489L1188 487.500"/><path class="k3" d="M1176.500 481Q1179 487 1177 494"/>
<path class="w2" d="M 1254.0 468.0 L 1262.5 467.5 Q 1266.8 475.5 1263.6 486.1 L 1254.0 487.4 Z" />
<path class="w2" d="M 1209.7 459.5 L 1207.1 492.5 L 1222.0 508.5 L 1240.1 506.9 L 1242.3 496.8 L 1252.4 494.7 L 1254.0 455.2 L 1212.9 460.0 Z" />
<path class="w2" d="M 1205.5 455.7 Q 1204.9 454.1 1207.1 453.9 L 1252.9 446.7 Q 1258.3 447.2 1258.3 450.9 L 1258.1 454.1 L 1254.0 455.7 L 1212.9 460.3 L 1206.0 459.7 Z" />
<path class="k2" d="M 1212.9 460.3 Q 1214.0 456.8 1212.9 453.9 M 1252.9 446.7 L 1254.0 455.7 M 1207.1 453.9 Q 1208.7 456.8 1206.0 459.7" />
<path class="" d="M 1214.7 459.3 L 1252.4 455.7 L 1251.9 494.7 L 1242.3 496.3 L 1240.1 505.3 L 1223.3 507.7 L 1214.7 498.7 Z" fill="none" stroke="#111" stroke-width="3.600" stroke-linejoin="round"/>
<path class="" d="M 1215.6 478.1 L 1251.3 473.9 M 1232.1 459.7 L 1232.5 477.6" fill="none" stroke="#111" stroke-width="3.600"/>
<path class="k2" d="M 1216.7 462.1 L 1230.5 460.9 M 1235.3 460.5 L 1250.8 459.3 M 1249.7 460.5 L 1240.1 473.3 M 1232.1 477.6 L 1232.1 487.2 M 1232.1 495.9 L 1232.5 506.9" />
<circle cx="1232.100" cy="491.500" r="4.400" fill="#fff" stroke="#111" stroke-width="3"/>
<path class="k3" d="M 1216.7 499.5 L 1223.6 500.2 L 1224.7 505.3 M 1240.1 504.3 L 1241.2 496.3 L 1251.3 493.6" />
<path class="w2" d="M 1270.0 452.5 L 1278.5 453.1 L 1280.7 447.2 L 1320.7 441.9 L 1321.2 452.0 L 1330.8 456.8 L 1327.6 461.6 L 1331.9 478.1 L 1327.1 484.0 L 1327.1 496.8 L 1286.5 502.1 L 1283.9 494.7 L 1275.3 497.3 L 1274.3 484.0 L 1268.9 474.4 L 1274.3 464.8 Z" />
<path class="k2" d="M 1280.7 447.2 L 1281.9 454.7 L 1321.2 452.0 M 1282.8 462.1 L 1330.8 457.3 M 1289.7 463.7 L 1327.6 461.4 M 1289.7 463.7 L 1292.4 484.5 L 1331.9 478.1 M 1286.5 490.4 L 1326.5 484.2 M 1286.5 490.4 L 1286.5 502.1 M 1278.5 453.1 L 1282.8 462.1 L 1289.7 463.7 M 1275.3 497.3 L 1283.9 489.3 L 1286.5 490.4 M 1268.9 474.4 L 1275.3 479.7 M 1274.3 484.0 L 1283.9 489.3 M 1270.0 452.5 L 1275.3 464.8" />
<path class="k3" d="M 1282.8 462.1 L 1330.8 457.1" />
<ellipse class="w2" cx="1280.700" cy="476.500" rx="5.600" ry="13.200"/><ellipse class="k2" cx="1281.200" cy="476.500" rx="3.800" ry="10.200"/>
<path class="w" d="M 1328.7 485.6 L 1336.3 487.0 L 1336.1 489.3 L 1328.7 488.3 Z M 1328.7 492.0 L 1336.3 493.6 L 1336.1 495.7 L 1328.7 494.7 Z" />
<path d="M1326.500 447.600L1333 446.800" stroke="#111" stroke-width="2.200" stroke-linecap="round"/><ellipse class="w" cx="1325.800" cy="447.700" rx="1.500" ry="2.300"/>
<g transform="rotate(-4 1344.200 466.700)"><rect class="w2" x="1337" y="441" width="16.500" height="52.500" rx="8.200" ry="10"/><rect class="k" x="1335.300" y="441.500" width="16.500" height="52.500" rx="8.200" ry="10"/><ellipse class="k2" cx="1344.200" cy="468" rx="5" ry="10.300"/><ellipse class="k" cx="1344" cy="448" rx="1" ry="1.500"/><ellipse class="k" cx="1344.500" cy="487.500" rx="1" ry="1.500"/></g>
<path class="w2" d="M1367.500 397Q1367.500 393.500 1371 394.200L1432 407Q1435.500 408 1435.600 411L1439.200 506Q1439.200 509.500 1436 509.700L1431.700 510L1371.700 490Z"/>
<path class="k2" d="M1372.500 399.500L1417 411.500L1420 498L1375 484.500ZM1430 409L1434 506M1431.700 510L1428.500 412L1371 397M1417 411.500L1428.500 415"/>
<path class="k" d="M1377.500 402L1414 412.500V418L1378 408ZM1378 408V414M1414 418L1416 424M1420 430H1424M1420 442H1424.500M1420.500 454H1425M1421 480H1425.500M1420 470L1430 472M1420 482L1430.500 484.500"/>
<path class="w2" d="M1419.500 459L1427 460.500L1427.500 478L1420 476.500Z"/><path class="w" d="M1427 463L1438 465.500V478L1427.500 475.500Z"/>
<g transform="rotate(-3 1396.700 466)"><rect class="w2" x="1387.500" y="433.500" width="18.300" height="65" rx="9.100" ry="11"/><ellipse class="k2" cx="1397.200" cy="461" rx="5.800" ry="12.500"/><circle class="b" cx="1396" cy="440.500" r="0.900"/><circle class="b" cx="1398" cy="481" r="0.900"/></g>
<ellipse class="k" cx="1373.500" cy="412.500" rx="1.700" ry="2.700"/><ellipse class="k" cx="1413.500" cy="432" rx="1.500" ry="2.500"/><ellipse class="k" cx="1386.500" cy="481" rx="1.300" ry="2"/><ellipse class="k" cx="1377" cy="487" rx="1.500" ry="2.200"/>
<path class="w" d="M1350 479.500L1375 482.800V486L1350 482.500Z"/>
<path class="w2" d="M1363.300 454.200L1378 452Q1382 457 1382 463.500Q1382 470 1379 474.500L1364 475.800Z"/>
<ellipse class="w2" cx="1363.300" cy="465" rx="5.800" ry="10.800"/><ellipse class="k" cx="1364" cy="465" rx="4.500" ry="9"/>
<g transform="translate(1432.5 390.5) rotate(-6)"><path class="w2" d="M0 -2.300H22V2.300H0Z"/><path class="w2" d="M22 -3.800H29.500Q30.500 -3.800 30.500 -2.800V2.800Q30.500 3.800 29.500 3.800H22Z"/><path class="k" d="M3 -2.300V2.300M24 -3.800V3.800M26 -3.800V3.800M28 -3.800V3.800"/></g>
<g transform="translate(1450.5 406.0) rotate(-6)"><path class="w2" d="M0 -2.300H22V2.300H0Z"/><path class="w2" d="M22 -3.800H29.500Q30.500 -3.800 30.500 -2.800V2.800Q30.500 3.800 29.500 3.800H22Z"/><path class="k" d="M3 -2.300V2.300M24 -3.800V3.800M26 -3.800V3.800M28 -3.800V3.800"/></g>
<g transform="translate(1457.0 478.0) rotate(-6)"><path class="w2" d="M0 -2.300H22V2.300H0Z"/><path class="w2" d="M22 -3.800H29.500Q30.500 -3.800 30.500 -2.800V2.800Q30.500 3.800 29.500 3.800H22Z"/><path class="k" d="M3 -2.300V2.300M24 -3.800V3.800M26 -3.800V3.800M28 -3.800V3.800"/></g>
<g transform="translate(1446.0 492.5) rotate(-6)"><path class="w2" d="M0 -2.300H22V2.300H0Z"/><path class="w2" d="M22 -3.800H29.500Q30.500 -3.800 30.500 -2.800V2.800Q30.500 3.800 29.500 3.800H22Z"/><path class="k" d="M3 -2.300V2.300M24 -3.800V3.800M26 -3.800V3.800M28 -3.800V3.800"/></g>
</g>
<!-- 09_graybox.svg -->
<g id="graybox"><path class="gb" d="M532 337.500L1464 228.700L1465.300 343L831.700 418.500V526.700L1398 460.500"/></g>
<!-- 10_box90.svg -->
<g id="box90">
<path class="w2" d="M 218.0 854.0 L 232.0 1096.2 Q 234.8 1100.4 251.6 1106.0 L 296.4 1120.0 Q 310.4 1125.0 321.6 1122.2 L 565.2 1092.0 Q 578.6 1089.8 579.2 1079.4 L 582.0 837.2 L 583.4 830.2 L 498.0 805.0 L 212.4 838.6 L 211.0 844.2 Z"/>
<path class="w2" d="M 212.4 838.6 L 498.0 805.0 Q 512.0 803.6 520.4 806.4 L 577.8 822.6 Q 585.4 825.4 583.4 833.8 L 582.0 838.6 Q 580.9 841.4 576.4 840.0 L 268.4 866.6 Q 263.4 867.4 262.2 863.8 L 260.0 859.0 L 215.2 852.6 Q 210.2 851.8 210.7 845.6 Z"/>
<path class="k2" d="M 213.0 843.4 L 498.0 809.8 Q 512.0 808.6 519.3 810.9 L 573.6 826.0 Q 577.8 827.7 575.8 829.9 L 269.8 857.4 Q 263.4 858.5 260.0 859.0"/>
<path class="k" d="M 221.4 845.0 L 491.0 812.6 M 512.0 809.2 L 566.6 824.9 M 274.0 851.8 L 565.2 827.4 Q 570.8 826.8 566.6 824.9"/>
<path class="k2" d="M 262.2 863.8 Q 261.7 860.2 268.4 859.0 L 577.8 831.0 Q 582.6 830.5 582.6 833.8"/>
<path class="k" d="M 489.6 809.8 L 490.2 836.1 M 512.6 808.1 L 513.7 833.8 M 554.0 820.4 L 554.0 829.4 M 562.4 823.2 L 562.4 828.2"/>
<path class="w2" d="M 223.6 843.4 L 258.6 849.8 L 260.0 866.6 L 225.0 859.0 Z"/>
<path class="k" d="M 223.6 843.4 Q 232.0 840.0 246.0 843.4 L 258.6 849.8"/>
<path class="k2" d="M 236.2 865.2 L 250.2 1103.8 M 247.4 866.6 L 255.8 1106.0 M 281.0 866.6 L 283.8 1113.8 M 306.2 865.2 L 313.2 1121.4 M 566.6 840.0 L 569.4 1087.8"/>
<path class="k" d="M 238.2 865.2 L 252.2 1104.6 M 282.4 1113.8 Q 288.0 1120.0 296.4 1120.0"/>
<path class="k2" d="M 330.6 1118.6 L 328.6 942.2 Q 328.6 926.8 344.0 926.8 Q 359.4 926.8 359.4 942.2 L 366.4 1115.2"/>
<path class="k" d="M 333.6 1118.0 L 331.7 942.2 Q 331.7 929.9 344.0 929.9 Q 356.3 929.9 356.3 942.2 L 363.3 1115.2"/>
<path class="k2" d="M 395.8 1111.0 L 391.6 935.2 Q 391.6 919.8 407.0 919.8 Q 422.4 919.8 422.4 935.2 L 429.4 1107.7"/>
<path class="k" d="M 398.9 1110.5 L 394.7 935.2 Q 394.7 922.9 407.0 922.9 Q 419.3 922.9 419.3 935.2 L 426.3 1107.7"/>
<path class="k2" d="M 458.0 1103.8 L 454.6 928.2 Q 454.6 912.8 470.0 912.8 Q 485.4 912.8 485.4 928.2 L 492.4 1100.4"/>
<path class="k" d="M 461.0 1103.2 L 457.7 928.2 Q 457.7 915.9 470.0 915.9 Q 482.3 915.9 482.3 928.2 L 489.3 1100.4"/>
<path class="k2" d="M 521.0 1096.5 L 517.6 919.8 Q 517.6 904.4 533.0 904.4 Q 548.4 904.4 548.4 919.8 L 555.4 1093.1"/>
<path class="k" d="M 524.0 1095.9 L 520.7 919.8 Q 520.7 907.5 533.0 907.5 Q 545.3 907.5 545.3 919.8 L 552.3 1093.1"/>
<path class="w2" d="M 256.1 798.0 L 271.2 798.0 L 271.8 851.2 L 257.2 851.2 Z"/>
<path class="k3" d="M 258.6 789.6 L 258.6 798.0 M 265.6 789.6 L 265.6 798.0 M 257.2 798.0 L 257.8 854.0 M 263.4 798.0 L 263.6 854.0 M 270.6 798.0 L 271.2 851.2"/>
<path class="k" d="M 260.0 800.8 L 260.3 848.4 M 267.0 800.8 L 267.3 848.4 M 257.2 826.0 L 271.2 826.0"/>
<path class="k3" d="M 247.4 868.0 L 247.4 938.0 M 255.8 868.0 L 256.1 942.2 M 263.4 868.0 L 263.4 938.0 M 267.0 868.0 L 267.3 943.6 M 252.2 887.6 L 252.7 926.8"/>
<path class="k2" d="M 247.4 915.6 L 267.0 915.6 M 247.4 922.6 L 267.0 922.6 M 250.2 938.0 L 250.2 926.8 M 260.0 942.2 L 260.0 931.0"/>
<path class="b" d="M 251.0 886.2 L 256.6 886.2 L 257.2 931.0 L 251.6 931.0 Z"/>
<path class="w2" d="M 277.4 810.6 L 294.2 807.8 L 311.8 812.0 L 312.1 854.0 L 302.0 855.4 L 301.4 819.0 L 294.2 817.6 L 291.4 819.8 L 291.4 855.4 L 287.4 854.0 L 286.9 817.6 L 279.0 816.2 Z"/>
<path class="k" d="M 294.2 807.8 L 294.2 817.6 M 286.9 817.6 L 301.4 819.0 M 282.4 812.0 L 307.6 814.2 M 291.4 828.8 L 296.4 828.8 M 291.4 835.8 L 296.4 835.8 M 291.4 842.8 L 296.4 842.8 M 291.4 849.8 L 296.4 849.8"/>
<path class="w2" d="M 582.0 1055.6 L 607.2 1052.2 Q 610.0 1052.2 610.0 1055.6 L 610.6 1079.4 L 584.8 1083.6 L 582.0 1076.6 Z"/>
<path class="k" d="M 582.0 1064.6 L 610.0 1061.2 M 582.0 1067.4 L 610.0 1064.0 M 582.6 1071.0 L 610.6 1067.4 M 582.6 1073.0 L 610.6 1069.6"/>
<use href="#scru" x="603.200" y="1096.500"/>
<path class="k" d="M 234.8 1092.0 Q 237.6 1096.2 253.0 1101.8 L 297.8 1115.8 Q 310.4 1120.0 321.6 1117.8 L 563.8 1087.8 Q 575.0 1085.8 576.4 1076.6"/>
</g>
<!-- 11_tray.svg -->
<g id="tray">
<path class="w2" d="M 401.0 423.0 L 443.0 417.0 L 490.0 425.0 L 489.0 433.0 L 488.0 546.0 L 446.0 551.0 L 412.0 538.0 L 403.0 429.0 Z" />
<path class="k2" d="M 401.0 423.0 L 446.0 431.0 L 490.0 425.0 M 402.0 428.0 L 446.0 438.0 L 489.0 433.0 M 446.0 431.0 L 446.0 438.0 M 440.0 437.2 L 446.0 550.0 M 446.0 438.0 L 449.0 550.4 M 412.0 534.0 L 446.0 546.0 L 488.0 541.0 M 486.0 434.0 L 485.6 545.6" />
<path class="k" d="M 407.0 423.6 L 444.0 418.4 L 485.0 425.6 L 447.0 430.0 Z M 422.0 421.0 L 428.0 427.0 M 432.0 420.0 L 437.0 428.6 M 460.0 429.6 L 474.0 428.0 L 474.4 434.4 L 460.4 436.0 Z M 442.0 418.4 L 442.0 430.0 M 452.0 420.0 L 452.4 429.6 M 443.0 438.0 L 448.0 550.0" />
<path class="b" d="M 454.0 456.0 L 456.4 456.0 L 458.4 542.4 L 455.6 542.4 Z M 466.8 443.0 L 469.2 443.0 L 471.6 540.4 L 468.8 540.4 Z M 479.0 453.0 L 481.2 453.0 L 483.2 540.0 L 480.6 540.0 Z" />
<path class="w2" d="M 220.0 592.0 L 230.0 588.0 L 425.0 565.6 L 427.0 568.0 L 430.0 586.0 L 468.0 593.0 L 470.0 587.0 L 478.0 583.0 L 488.0 583.0 L 489.0 618.0 L 495.0 622.0 L 490.0 647.0 L 422.0 652.0 L 402.0 656.0 L 330.0 662.0 L 322.0 665.0 L 276.0 669.0 L 268.0 666.0 L 264.0 660.0 L 240.0 658.0 L 232.0 654.0 Z" />
<path class="k2" d="M 220.0 592.0 Q 250.0 602.0 278.0 606.0 L 290.0 618.0 L 385.0 608.0 L 468.0 593.0 M 221.0 594.4 Q 250.0 604.4 277.0 608.4 L 286.0 668.0 M 277.0 608.4 L 289.0 620.0 L 385.0 610.4 L 470.0 595.0 M 231.0 591.0 L 427.0 569.0 M 278.0 606.0 L 294.0 600.0 L 430.0 586.0 M 294.0 600.0 L 290.0 597.0 L 231.0 591.0 M 425.0 565.6 L 416.0 566.4 M 470.0 587.0 L 489.0 597.0 L 492.4 620.0" />
<path class="k" d="M 232.0 593.0 L 428.0 571.4 M 290.0 618.0 L 294.0 668.0 M 296.0 617.6 L 299.0 667.0 M 488.0 587.0 L 487.6 618.0 M 422.0 652.0 L 490.0 647.0 M 286.0 600.0 L 270.0 604.0" />
<path class="w2" d="M 289.6 618.0 L 289.6 601.0 Q 293.0 598.0 296.4 601.0 L 296.4 617.6 Z" />
<path class="k" d="M 289.6 601.6 Q 293.0 604.0 296.4 601.6" />
<path class="w2" d="M 385.6 608.0 L 385.6 596.0 Q 388.4 593.6 391.2 596.0 L 391.2 607.4 Z" />
<path class="k" d="M 385.6 596.6 Q 388.4 598.8 391.2 596.6" />
<path class="w2" d="M 480.4 592.0 L 480.4 584.0 Q 483.6 581.6 486.8 584.0 L 486.8 591.6 Z" />
<path class="k" d="M 480.4 584.6 Q 483.6 586.8 486.8 584.6" />
<path class="w2" d="M 288.0 597.0 L 338.0 591.6 L 340.0 598.0 L 290.0 603.6 Z" />
<path class="k3" d="M 290.0 602.8 L 292.4 596.4 M 293.2 602.5 L 295.6 596.0 M 296.4 602.1 L 298.8 595.7 M 299.6 601.8 L 302.0 595.4 M 302.8 601.4 L 305.2 595.0 M 306.0 601.0 L 308.4 594.6 M 309.2 600.7 L 311.6 594.3 M 312.4 600.4 L 314.8 594.0 M 315.6 600.0 L 318.0 593.6 M 318.8 599.6 L 321.2 593.2 M 322.0 599.3 L 324.4 592.9 M 325.2 599.0 L 327.6 592.5 M 328.4 598.6 L 330.8 592.2 M 331.6 598.2 L 334.0 591.9 M 334.8 597.9 L 337.2 591.5" />
<path class="k2" d="M 338.0 591.6 Q 350.0 590.0 354.0 597.0 M 276.0 606.0 Q 278.0 600.0 287.0 600.0" />
<path class="b" d="M 236.0 616.0 L 250.0 615.0 Q 258.0 622.0 260.0 636.0 L 261.0 654.0 L 240.0 652.0 L 235.0 624.0 Z" />
<path class="" d="M 236.4 617.0 L 242.0 652.4 M 238.2 617.6 L 243.8 652.4 M 240.0 618.2 L 245.6 652.4 M 241.8 618.8 L 247.4 652.4 M 243.6 619.4 L 249.2 652.4 M 245.4 620.0 L 251.0 652.4 M 247.2 620.6 L 252.8 652.4 M 249.0 621.2 L 254.6 652.4 M 250.8 621.8 L 256.4 652.4 M 252.6 622.4 L 258.2 652.4" stroke="#fff" stroke-width="0.7" fill="none"/>
<path class="w" d="M 240.0 652.4 L 261.0 654.4 L 262.4 660.0 L 242.0 658.0 Z" />
<path class="k2" d="M 323.0 664.0 L 328.0 630.0 Q 331.0 619.0 340.0 617.0 L 402.0 609.0 Q 414.0 609.0 417.0 618.0 L 422.0 650.0 M 330.0 662.4 L 334.4 632.0 Q 337.0 622.0 343.0 620.0 M 403.0 609.6 L 407.0 654.0 M 405.0 626.0 L 417.0 624.0 Q 420.0 624.0 420.4 627.0" />
<path class="k2" d="M 340.0 619.6 L 342.4 660.0 M 345.2 618.9 L 347.6 659.6 M 350.4 618.3 L 352.8 659.1 M 355.6 617.6 L 358.0 658.7 M 360.8 617.0 L 363.2 658.2 M 366.0 616.3 L 368.4 657.8 M 371.2 615.6 L 373.6 657.4 M 376.4 615.0 L 378.8 656.9 M 381.6 614.3 L 384.0 656.5 M 386.8 613.7 L 389.2 656.0 M 392.0 613.0 L 394.4 655.6 M 397.2 612.3 L 399.6 655.2 M 402.4 611.7 L 404.8 654.7" />
<path class="k" d="M 342.0 619.4 L 344.0 654.0 M 347.2 618.7 L 349.2 653.6 M 352.4 618.1 L 354.4 653.1 M 357.6 617.4 L 359.6 652.7 M 362.8 616.8 L 364.8 652.2 M 368.0 616.1 L 370.0 651.8 M 373.2 615.4 L 375.2 651.4 M 378.4 614.8 L 380.4 650.9 M 383.6 614.1 L 385.6 650.5 M 388.8 613.5 L 390.8 650.0 M 394.0 612.8 L 396.0 649.6 M 399.2 612.1 L 401.2 649.2" />
<path class="k" d="M 338.0 650.0 L 402.0 644.4 M 339.0 658.0 L 403.0 652.4" />
<use href="#scr" x="253.0" y="571.0"/>
<use href="#scr" x="311.6" y="565.0"/>
<use href="#scr" x="370.0" y="557.0"/>
<use href="#scr" x="406.0" y="554.0"/>
<use href="#scr" x="453.0" y="570.0"/>
<use href="#scr" x="348.0" y="582.0"/>
<use href="#scr" x="279.0" y="589.0"/>
<use href="#scr" x="408.0" y="575.0"/>
</g>
<!-- 12_base.svg -->
<g id="base">
<!-- 71/72 base plate -->
<path class="w2" d="M610 606L618.300 601.700L650 595.800L850 571L900 566.700Q925 566 960 578L1010.800 592L1014.200 630.800L1006.700 635L933.300 641.700L920.800 645L920 628.300L731.700 649L705 650.300L678.300 644.200L640.800 635L610.800 624.200Z"/>
<path class="k2" d="M610 606L639.200 613.300L678.300 622.500L705 631.300Q718 633 730 627.500L937.500 605.800L929.200 596.700L1002.500 591.700M639.200 613.300L640.800 635M678.300 622.500V644.200M705 631.300V650.300M730 627.500L731.700 649M937.500 605.800L940 626.700L933.300 627.500V641.700M1002.500 591.700L1006.700 635M940 626.700L1013.500 618"/>
<path class="k" d="M611.500 608L639.500 615.500L678.500 624.500L705 633.300Q718 635 730 629.500L938 607.500M618.300 601.700L645 606L650 595.800M645 606L688 616.500L716 619.500M688 616.500L700 607M716 619.500Q722 622 729 618.500L935 596.500M700 607L925 583M652 597.500L850 573L898 568.500Q925 568 955 579L1003 591M925 583L960 578"/>
<path class="k" d="M613 622L613.500 627L626 631M641 633L641.500 638L675 646M678.500 646.500L700 652"/>
<!-- recess left -->
<path class="k2" d="M661.700 597.500L716.700 605.800L720 611.700L678.300 604.200Z"/><path class="k" d="M690 601L712 604.500L714 608.500L692 605Z"/>
<!-- slots -->
<path class="k2" d="M736 621.500Q733 617.500 738 616.800L780 612.500Q786 612.500 784 616L781 618.500L740 623Q737 623 736 621.500ZM802 613.500Q799 610 804 609.200L846 604.800Q852 604.500 850 608L847 610.500L806 615Q803 615 802 613.500ZM866 606.500Q863 603 868 602.200L912 597.500Q918 597.500 916 601L913 603.500L870 608Q867 608 866 606.500Z"/>
<path class="k" d="M740 620.500L781 616M806 612.500L847 608M870 605.500L913 601"/>
<!-- top recess & vents -->
<path class="k2" d="M820 588.500L866 573.500L906 579.500L868 594Z"/><path class="k" d="M832 588L868 576L896 580.500L866 591.500ZM866 573.500L868 590M868 594L916 589Q922 588 925 583"/>
<path class="k" d="M722 596L850 581M790 600L818 597M770 594L772 599"/>
<ellipse class="k" cx="796.500" cy="596.500" rx="9" ry="2" transform="rotate(-7 796.500 596.500)"/>
<g stroke="#111" stroke-width="2.600" stroke-linecap="round" fill="none"><path d="M886 571L904 569.300M898 575L920 572.500M912 579.500L936 577M924 583.500L950 581M938 587.500L962 585"/></g>
<path class="k" d="M953.300 569.200L960 568.300L984.200 575L976.700 576.700Z"/>
<!-- 73/74 bolts -->
<g id="bolt73"><path class="w" d="M804.500 651.500Q804.500 650 806.200 650Q808 650 808 651.500V663H804.500Z"/><ellipse class="w" cx="806.200" cy="656.500" rx="4.500" ry="1.600"/><ellipse class="w2" cx="806.200" cy="663.500" rx="4" ry="1.700"/></g>
<use href="#bolt73" x="68.300" y="-5"/><use href="#bolt73" x="85.800" y="-3.500"/>
<!-- 76 rail -->
<path class="w2" d="M613.300 698.300L614.200 697.500L708.300 686.700L833.300 671.300L838.300 673.300L839.200 678.300L845.800 677.500L846.700 691.700L850 692.500V697.500L815 702.500L802.500 702.500L746.700 709.200L736.700 711.700L621.700 724.200L614.200 720.800Z"/>
<path class="k2" d="M618.300 702.500L620.800 716.700L733.300 704.200L738.300 705M618.300 702.500L712 691.500L714 705M616 699.500L618.300 702.500M712 691.500L736.700 688.500M736.700 688.500L738.300 711M741 688L742.500 710M745 687.500L746.700 709.200M745 705L800 698.300L802.500 702.500M801.700 681.700L802.500 702.500M806 681L807 701.500M810 680.500L811 700M811 697.500L846.700 692.500M745 690L801.700 683M810 682L838.300 678.500"/>
<path class="k" d="M620.800 716.700L621.700 724.200M640 694L642 697M660 692L662 695M690 688.500L692 691.500M760 682L762 685M780 679.500L782 682.500M820 675L822 678M715.500 691.500V698.500L724 697.500V690.500"/>
<path class="k3" d="M622 716L732 703.500M748 706.500L799 700"/>
<!-- 75 rail -->
<path class="w2" d="M705 730L706.700 729.200L800 719.200L850 713.300L923.300 704.200L943.300 705L944 708.500L942.500 726.700L938.300 727.500L925 727L800 743.500L718.300 753.300L710 752.500L703.300 748.300Z"/>
<path class="k2" d="M708 733L710 748L718.300 742.500V753.300M708 733L800 723L850 717L925 708L940 708.500M718.300 742.500L733.300 739.200L745 740L795 733.300L797 738L812 736L814 731L874 723.500L923 716.500L926 721L938 720.500M733.300 739.200L731 751.500M745 740L743 750.500M795 733.300L793.500 744M812 736L810.500 742M874 723.500L872 733.500M926 721L925 727"/>
<path class="k" d="M735 727L737 730M760 724.500L762 727.500M790 721.500L792 724.500M830 716.500L832 719.500M870 711.500L872 714.500M900 708L902 711M748 739L794 732.500M815 730L873 722.500"/>
<path class="k3" d="M747 741.500L794 735.500M816 733.500L872 726"/>
</g>
<!-- 13_frame.svg -->
<g id="frame">
<!-- tube B (rear) drawn first -->
<path class="w2" d="M796.800 796L957.800 776.400Q991 773 994.200 808.600L1034.800 1017.200Q1041 1057 1004 1062L761.800 1091.400Q757 1083 760.400 1074.600L1002.600 1045.200Q1019 1042.400 1016.600 1020L976 810Q974.600 793.200 957.800 793.200L798.200 812.800Q793 804 796.800 796Z"/>
<ellipse class="w2" cx="797" cy="804.400" rx="3.600" ry="8.400" transform="rotate(-7 797 804.400)"/>
<ellipse class="w2" cx="760.800" cy="1083" rx="3.600" ry="8.400" transform="rotate(-7 760.800 1083)"/>
<path class="k" d="M957.800 776.400Q955 785 957.800 793.200M976 810Q985 806 994.200 808.600M1001.200 1046.600Q1004 1054 1004 1062M1016.600 1020Q1025 1021 1034.800 1017.200"/>
<!-- tube A (front) -->
<path class="w2" d="M700.200 769.400L862.600 751.200Q894 748 896.500 782L900.400 782L938.200 989.200Q943.500 1031.200 906 1036.800L663.800 1064.800Q660 1056 663.800 1048L904.600 1020Q921 1017.200 920 992L882.200 782L880.800 782Q878 766.600 861.200 768L700.200 786.200Q696 778 700.200 769.400Z"/>
<ellipse class="w2" cx="700.400" cy="777.800" rx="3.600" ry="8.400" transform="rotate(-7 700.400 777.800)"/>
<ellipse class="w2" cx="664" cy="1056.400" rx="3.600" ry="8.400" transform="rotate(-7 664 1056.400)"/>
<path class="k" d="M862.600 751.200Q860 760 861.200 768M880.800 782Q889 779 896.500 782M903.200 1021.400Q907 1029 906 1036.800M920 992Q929 993 938.200 989.200"/>
<!-- axle 96 etc -->
<path class="w2" d="M931.500 989.300L1016 1013.200L1014.500 1018.600L930 994.800Z"/>
<path class="w" d="M1026.400 1016.300L1036 1018.800L1035 1022.800L1025.500 1020.300ZM1036 1017.500L1046 1020.500L1044.500 1025.500L1034.500 1022.500Z"/>
<path class="w" d="M910.200 984.200L917.500 986.800L916.500 990.800L909.200 988.200Z"/>
<circle class="w2" cx="901.800" cy="985" r="5"/><circle class="k" cx="901.800" cy="985" r="2.600"/>

<!-- 101 plug & screw -->
<path d="M812.200 750V760" stroke="#111" stroke-width="2.400" stroke-linecap="round"/><ellipse class="b" cx="812.200" cy="749.500" rx="2.800" ry="1.800"/>
<path class="w2" d="M807 766Q807 762.500 812.500 762.500Q818 762.500 818 766L817 771.500Q812.500 774 808 771.500Z"/><path class="b" d="M806.500 766.500Q806.500 762 812.500 762Q818.500 762 818.500 766.500Q812.500 769.500 806.500 766.500Z"/>
<!-- 100 screws with guide lines -->
<path d="M718.400 791.800L721.200 855M812.200 776.400L816.400 878.600" stroke="#aaa" stroke-width="1" fill="none"/>
<g id="scr100"><path class="w" d="M718.300 828Q718.300 826.500 720 826.500Q721.800 826.500 721.800 828V840H718.300Z"/><ellipse class="b" cx="720.200" cy="841.800" rx="5.200" ry="2.600"/><path d="M716.500 841.800H724" stroke="#fff" stroke-width="0.700"/></g>
<use href="#scr100" x="95.400" y="25.300"/>
<!-- 91 foot (separate) -->
<path class="w2" d="M667 1088Q667 1081 674 1080.500L702 1078Q708 1078 708.500 1083.500L708.600 1106L679 1109.600L667 1107Z"/>
<ellipse class="k2" cx="672.500" cy="1090" rx="5.500" ry="9.500"/>
<path class="k" d="M679 1094L708.500 1090.500M679.500 1097L708.500 1093.500M680 1101.500L708.600 1098M679 1094V1109.600"/>
<use href="#scru" x="693.400" y="1126.500"/>
<!-- screws 80 under rails -->
<g id="scr80"><path class="w" d="M628.800 735V742.500H631.600V735Q630.200 733.800 628.800 735Z"/><ellipse class="w2" cx="630.200" cy="743.500" rx="2.600" ry="1.300"/></g>
<use href="#scr80" x="5.500" y="-1.500"/><use href="#scr80" x="45.500" y="-6"/><use href="#scr80" x="73" y="-19.500"/><use href="#scr80" x="112" y="-24"/><use href="#scr80" x="138" y="-29"/><use href="#scr80" x="176" y="-34"/><use href="#scr80" x="202" y="-38"/>
<use href="#scr80" x="90" y="26.500"/><use href="#scr80" x="109" y="26"/><use href="#scr80" x="137" y="19"/><use href="#scr80" x="172" y="13.500"/><use href="#scr80" x="199" y="9"/><use href="#scr80" x="238" y="4"/><use href="#scr80" x="264" y="1.500"/><use href="#scr80" x="304" y="-5"/>
</g>
<!-- 14_wheels.svg -->
<g id="wheels">
<ellipse class="w2" cx="751.0" cy="944.3" rx="35.3" ry="41.7" />
<ellipse class="k2" cx="751.5" cy="944.3" rx="31.7" ry="37.7" />
<ellipse class="k" cx="751.5" cy="944.3" rx="30.1" ry="35.9" />
<path class="k2" d="M776.5 960.3Q766.2 954.8 763.2 956.4M768.5 971.9Q762.4 960.2 763.2 956.4M769.1 958.9Q764.5 957.7 766.3 962.8M762.0 976.4Q756.9 963.9 753.7 962.8M749.7 979.0Q751.1 965.1 753.7 962.8M756.9 969.2Q754.0 964.8 752.6 970.1M742.3 977.4Q744.9 963.8 743.0 960.5M731.5 969.8Q739.7 960.3 743.0 960.5M742.0 967.8Q742.2 962.3 738.2 965.3M726.7 962.9Q735.7 954.6 736.1 950.7M722.4 948.8Q733.6 948.0 736.1 950.7M731.3 955.5Q734.4 951.4 729.8 950.7M722.4 939.8Q733.6 940.5 736.1 937.9M726.7 925.6Q735.7 934.0 736.1 937.9M729.8 937.9Q734.4 937.2 731.3 933.1M731.5 918.7Q739.7 928.2 743.1 928.0M742.4 911.2Q744.9 924.7 743.1 928.0M738.3 923.3Q742.2 926.2 742.0 920.7M749.7 909.6Q751.1 923.5 753.8 925.8M762.1 912.3Q757.0 924.7 753.8 925.8M752.7 918.5Q754.1 923.8 756.9 919.4M768.5 916.8Q762.4 928.4 763.2 932.3M776.6 928.3Q766.2 933.8 763.2 932.3M766.3 925.8Q764.5 930.9 769.1 929.7M779.1 936.8Q768.4 940.8 766.9 944.3M779.1 951.9Q768.4 947.8 766.9 944.3M772.8 941.8Q768.6 944.3 772.8 946.9"/>
<ellipse class="w2" cx="751.5" cy="944.8" rx="9.5" ry="10.4" />
<path class="w" d="M766.500 904L771 905.500L770 908.500L765.500 907Z"/><path class="w" d="M714 950L718.500 950.500L718 953.500L714 953Z"/>
<ellipse class="b" cx="821.7" cy="965.9" rx="50.8" ry="59.5" />
<path d="M824.7 1024.1l2.4 -0.0M829.1 1024.0l2.4 -0.0M821.2 1023.9l2.4 -0.0M825.6 1023.8l2.4 -0.0M817.8 1023.5l2.4 -0.0M822.2 1023.4l2.4 -0.0M814.4 1022.8l2.4 -0.0M818.7 1022.7l2.4 -0.0M811.0 1021.8l2.3 -0.0M815.3 1021.7l2.3 -0.0M807.7 1020.5l2.3 -0.1M812.0 1020.4l2.3 -0.1M804.5 1019.0l2.3 -0.1M808.8 1018.9l2.3 -0.1M801.3 1017.2l2.3 -0.1M805.6 1017.1l2.3 -0.1M798.3 1015.2l2.3 -0.1M802.6 1015.0l2.3 -0.1M795.5 1012.9l2.3 -0.1M799.7 1012.7l2.3 -0.1M792.7 1010.4l2.3 -0.1M796.9 1010.2l2.3 -0.1M790.1 1007.6l2.3 -0.1M794.3 1007.5l2.3 -0.1M787.7 1004.7l2.3 -0.1M791.9 1004.5l2.3 -0.1M785.5 1001.6l2.2 -0.1M789.6 1001.4l2.2 -0.1M783.5 998.3l2.2 -0.1M787.6 998.0l2.2 -0.1M781.6 994.8l2.2 -0.1M785.7 994.6l2.2 -0.1M780.0 991.2l2.2 -0.2M784.1 990.9l2.2 -0.2M778.6 987.5l2.2 -0.2M782.7 987.2l2.2 -0.2M777.4 983.7l2.2 -0.2M781.5 983.3l2.2 -0.2M776.4 979.7l2.2 -0.2M780.5 979.4l2.2 -0.2M775.7 975.7l2.2 -0.2M779.8 975.4l2.2 -0.2M775.2 971.7l2.2 -0.2M779.3 971.3l2.2 -0.2M775.0 967.6l2.2 -0.2M779.1 967.2l2.2 -0.2M775.0 963.6l2.2 -0.2M779.1 963.1l2.2 -0.2M775.2 959.5l2.2 -0.3M779.3 959.0l2.2 -0.3M775.7 955.5l2.2 -0.3M779.8 954.9l2.2 -0.3M776.4 951.5l2.2 -0.3M780.5 950.9l2.2 -0.3M777.4 947.5l2.2 -0.3M781.5 947.0l2.2 -0.3M778.6 943.7l2.2 -0.3M782.7 943.1l2.2 -0.3M780.0 940.0l2.2 -0.3M784.1 939.4l2.2 -0.3M781.6 936.4l2.2 -0.3M785.7 935.7l2.2 -0.3M783.5 932.9l2.2 -0.4M787.6 932.3l2.2 -0.4M785.5 929.6l2.2 -0.4M789.6 928.9l2.2 -0.4M787.7 926.5l2.3 -0.4M791.9 925.8l2.3 -0.4M790.1 923.6l2.3 -0.4M794.3 922.8l2.3 -0.4M792.7 920.8l2.3 -0.4M796.9 920.1l2.3 -0.4M795.5 918.3l2.3 -0.4M799.7 917.6l2.3 -0.4M798.3 916.0l2.3 -0.4M802.6 915.3l2.3 -0.4M801.3 914.0l2.3 -0.4M805.6 913.2l2.3 -0.4M804.5 912.2l2.3 -0.4M808.8 911.4l2.3 -0.4M807.7 910.7l2.3 -0.4M812.0 909.9l2.3 -0.4M811.0 909.4l2.3 -0.4M815.3 908.6l2.3 -0.4M814.4 908.4l2.4 -0.4M818.7 907.6l2.4 -0.4M817.8 907.7l2.4 -0.4M822.2 906.9l2.4 -0.4M821.2 907.3l2.4 -0.4M825.6 906.5l2.4 -0.4M824.7 907.2l2.4 -0.4M829.1 906.3l2.4 -0.4" stroke="#fff" stroke-width="1.5" fill="none"/>
<ellipse class="" cx="833.7" cy="964.7" rx="50.0" ry="58.7" fill="#fff" stroke="#111" stroke-width="3.4"/>
<path class="k2" d="M870.9 970.2L878.5 969.4M869.8 976.1L876.5 981.0M876.5 981.0L872.4 991.9M865.1 988.0L872.4 991.9M861.9 992.7L866.3 1001.4M866.3 1001.4L858.6 1009.0M853.1 1001.2L858.6 1009.0M848.4 1003.9L849.6 1014.5M849.6 1014.5L839.8 1017.4M837.2 1007.1L839.8 1017.4M832.0 1007.2L829.8 1017.7M829.8 1017.7L819.9 1015.3M820.7 1004.6L819.9 1015.3M815.9 1002.2L810.7 1010.4M810.7 1010.4L802.7 1003.2M806.7 994.3L802.7 1003.2M803.3 989.7L796.2 994.1M796.2 994.1L791.6 983.5M798.1 978.0L791.6 983.5M796.8 972.3L789.1 972.0M789.1 972.0L788.9 960.0M796.5 959.2L788.9 960.0M797.6 953.3L790.9 948.4M790.9 948.4L795.0 937.5M802.3 941.4L795.0 937.5M805.5 936.7L801.1 928.0M801.1 928.0L808.8 920.4M814.3 928.2L808.8 920.4M819.0 925.5L817.8 914.9M817.8 914.9L827.6 912.0M830.2 922.3L827.6 912.0M835.4 922.2L837.6 911.7M837.6 911.7L847.5 914.1M846.7 924.8L847.5 914.1M851.5 927.2L856.7 919.0M856.7 919.0L864.7 926.2M860.7 935.1L864.7 926.2M864.1 939.7L871.2 935.3M871.2 935.3L875.8 945.9M869.3 951.4L875.8 945.9M870.6 957.1L878.3 957.4M878.3 957.4L878.5 969.4"/>
<ellipse class="" cx="832.7" cy="965.5" rx="36.0" ry="41.1" fill="#fff" stroke="#111" stroke-width="4"/>
<ellipse class="k" cx="833.2" cy="965.5" rx="32.6" ry="37.5" />
<path class="k2" d="M843.0 968.0L865.5 969.4M843.0 968.0L864.2 976.7M840.0 974.3L857.5 990.5M840.0 974.3L852.7 995.6M834.3 977.4L840.1 1002.1M834.3 977.4L833.7 1003.0M828.3 975.9L820.1 999.8M828.3 975.9L814.5 996.2M824.1 970.6L805.1 984.5M824.1 970.6L802.4 977.7M823.4 963.4L800.9 962.0M823.4 963.4L802.2 954.7M826.4 957.1L808.9 940.9M826.4 957.1L813.7 935.8M832.1 954.0L826.3 929.3M832.1 954.0L832.7 928.4M838.1 955.5L846.3 931.6M838.1 955.5L851.9 935.2M842.3 960.8L861.3 946.9M842.3 960.8L864.0 953.7"/>
<ellipse class="k2" cx="852.6" cy="978.2" rx="9.4" ry="3.5" transform="rotate(33.5 852.6 978.2)"/>
<ellipse class="k2" cx="842.5" cy="988.9" rx="9.4" ry="3.5" transform="rotate(68.7 842.5 988.9)"/>
<ellipse class="k2" cx="828.8" cy="990.7" rx="9.4" ry="3.5" transform="rotate(99.8 828.8 990.7)"/>
<ellipse class="k2" cx="816.8" cy="982.9" rx="9.4" ry="3.5" transform="rotate(132.9 816.8 982.9)"/>
<ellipse class="k2" cx="811.0" cy="968.6" rx="9.4" ry="3.5" transform="rotate(172.3 811.0 968.6)"/>
<ellipse class="k2" cx="813.8" cy="953.2" rx="9.4" ry="3.5" transform="rotate(-146.5 813.8 953.2)"/>
<ellipse class="k2" cx="823.9" cy="942.5" rx="9.4" ry="3.5" transform="rotate(-111.3 823.9 942.5)"/>
<ellipse class="k2" cx="837.6" cy="940.7" rx="9.4" ry="3.5" transform="rotate(-80.2 837.6 940.7)"/>
<ellipse class="k2" cx="849.6" cy="948.5" rx="9.4" ry="3.5" transform="rotate(-47.1 849.6 948.5)"/>
<ellipse class="k2" cx="855.4" cy="962.8" rx="9.4" ry="3.5" transform="rotate(-7.7 855.4 962.8)"/>
<ellipse class="w2" cx="850.8" cy="987.4" rx="2.3" ry="2.6" />
<ellipse class="w2" cx="809.7" cy="978.1" rx="2.3" ry="2.6" />
<ellipse class="w2" cx="830.1" cy="936.3" rx="2.3" ry="2.6" />
<ellipse class="w2" cx="858.6" cy="971.5" rx="2.3" ry="2.6" />
<ellipse class="w2" cx="833.2" cy="965.7" rx="10.0" ry="11.2" />
<ellipse class="k2" cx="833.2" cy="965.7" rx="5.5" ry="6.2" />
<ellipse class="k" cx="833.2" cy="965.7" rx="3.2" ry="3.5" />
<path class="w2" d="M874.500 973.500L887 977Q892.500 979.500 891.500 984L888.500 986L873 981.500Z"/><ellipse class="k2" cx="889" cy="981.500" rx="2.600" ry="4"/>
<ellipse class="b" cx="1095.2" cy="1039.4" rx="52.8" ry="59.8" />
<path d="M1098.5 1097.9l2.6 -0.0M1103.3 1097.8l2.6 -0.0M1094.8 1097.7l2.6 -0.0M1099.6 1097.6l2.6 -0.0M1091.2 1097.3l2.6 -0.0M1096.0 1097.2l2.6 -0.0M1087.7 1096.6l2.6 -0.0M1092.4 1096.5l2.6 -0.0M1084.2 1095.6l2.5 -0.0M1088.9 1095.5l2.5 -0.0M1080.8 1094.3l2.5 -0.1M1085.4 1094.2l2.5 -0.1M1077.4 1092.8l2.5 -0.1M1082.1 1092.7l2.5 -0.1M1074.2 1091.0l2.5 -0.1M1078.8 1090.9l2.5 -0.1M1071.0 1088.9l2.5 -0.1M1075.6 1088.8l2.5 -0.1M1068.0 1086.6l2.5 -0.1M1072.6 1086.5l2.5 -0.1M1065.2 1084.1l2.5 -0.1M1069.8 1083.9l2.5 -0.1M1062.5 1081.4l2.5 -0.1M1067.1 1081.2l2.5 -0.1M1060.0 1078.4l2.5 -0.1M1064.5 1078.2l2.5 -0.1M1057.7 1075.3l2.4 -0.1M1062.2 1075.1l2.4 -0.1M1055.5 1072.0l2.4 -0.1M1060.1 1071.7l2.4 -0.1M1053.6 1068.5l2.4 -0.1M1058.1 1068.2l2.4 -0.1M1051.9 1064.9l2.4 -0.2M1056.4 1064.6l2.4 -0.2M1050.5 1061.1l2.4 -0.2M1054.9 1060.8l2.4 -0.2M1049.2 1057.3l2.4 -0.2M1053.7 1056.9l2.4 -0.2M1048.2 1053.3l2.4 -0.2M1052.7 1053.0l2.4 -0.2M1047.5 1049.3l2.4 -0.2M1051.9 1048.9l2.4 -0.2M1047.0 1045.2l2.4 -0.2M1051.4 1044.8l2.4 -0.2M1046.7 1041.2l2.4 -0.2M1051.2 1040.7l2.4 -0.2M1046.7 1037.0l2.4 -0.2M1051.2 1036.6l2.4 -0.2M1047.0 1033.0l2.4 -0.3M1051.4 1032.5l2.4 -0.3M1047.5 1028.9l2.4 -0.3M1051.9 1028.4l2.4 -0.3M1048.2 1024.9l2.4 -0.3M1052.7 1024.4l2.4 -0.3M1049.2 1020.9l2.4 -0.3M1053.7 1020.4l2.4 -0.3M1050.5 1017.1l2.4 -0.3M1054.9 1016.5l2.4 -0.3M1051.9 1013.3l2.4 -0.3M1056.4 1012.7l2.4 -0.3M1053.6 1009.7l2.4 -0.3M1058.1 1009.1l2.4 -0.3M1055.5 1006.2l2.4 -0.4M1060.1 1005.6l2.4 -0.4M1057.7 1002.9l2.4 -0.4M1062.2 1002.3l2.4 -0.4M1060.0 999.8l2.5 -0.4M1064.5 999.1l2.5 -0.4M1062.5 996.8l2.5 -0.4M1067.1 996.1l2.5 -0.4M1065.2 994.1l2.5 -0.4M1069.8 993.4l2.5 -0.4M1068.0 991.6l2.5 -0.4M1072.6 990.8l2.5 -0.4M1071.0 989.3l2.5 -0.4M1075.6 988.5l2.5 -0.4M1074.2 987.2l2.5 -0.4M1078.8 986.5l2.5 -0.4M1077.4 985.4l2.5 -0.4M1082.1 984.6l2.5 -0.4M1080.8 983.9l2.5 -0.4M1085.4 983.1l2.5 -0.4M1084.2 982.6l2.5 -0.4M1088.9 981.8l2.5 -0.4M1087.7 981.6l2.6 -0.4M1092.4 980.8l2.6 -0.4M1091.2 980.9l2.6 -0.4M1096.0 980.1l2.6 -0.4M1094.8 980.5l2.6 -0.4M1099.6 979.7l2.6 -0.4M1098.5 980.4l2.6 -0.4M1103.3 979.5l2.6 -0.4" stroke="#fff" stroke-width="1.5" fill="none"/>
<ellipse class="" cx="1108.2" cy="1038.2" rx="52.0" ry="59.0" fill="#fff" stroke="#111" stroke-width="2.4"/>
<path class="k" d="M1159.7 1038.2L1156.6 1038.2L1156.5 1042.3L1159.6 1042.6M1158.8 1048.9L1155.8 1048.3L1155.0 1052.4L1158.0 1053.2M1156.2 1059.3L1153.3 1058.1L1151.9 1061.9L1154.7 1063.4M1152.0 1069.0L1149.4 1067.3L1147.3 1070.7L1149.8 1072.6M1146.3 1077.6L1144.0 1075.4L1141.4 1078.3L1143.6 1080.7M1139.2 1084.9L1137.4 1082.3L1134.4 1084.6L1136.1 1087.4M1131.2 1090.6L1129.8 1087.6L1126.5 1089.3L1127.6 1092.4M1122.3 1094.5L1121.4 1091.3L1117.9 1092.3L1118.5 1095.5M1113.0 1096.5L1112.7 1093.2L1109.0 1093.4L1109.1 1096.7M1103.4 1096.5L1103.7 1093.2L1100.1 1092.6L1099.6 1095.9M1094.1 1094.5L1095.0 1091.3L1091.5 1090.0L1090.4 1093.1M1085.2 1090.6L1086.6 1087.6L1083.4 1085.6L1081.9 1088.5M1077.2 1084.9L1079.0 1082.3L1076.2 1079.6L1074.2 1082.1M1070.1 1077.6L1072.4 1075.4L1070.1 1072.2L1067.6 1074.3M1064.4 1069.0L1067.0 1067.3L1065.3 1063.7L1062.5 1065.2M1060.2 1059.3L1063.1 1058.1L1061.9 1054.2L1058.9 1055.2M1057.6 1048.9L1060.6 1048.3L1060.1 1044.2L1057.0 1044.6M1056.7 1038.2L1059.8 1038.2L1059.9 1034.1L1056.8 1033.8M1057.6 1027.5L1060.6 1028.1L1061.4 1024.0L1058.4 1023.2M1060.2 1017.1L1063.1 1018.3L1064.5 1014.5L1061.7 1013.0M1064.4 1007.4L1067.0 1009.1L1069.1 1005.7L1066.6 1003.8M1070.1 998.8L1072.4 1001.0L1075.0 998.1L1072.8 995.7M1077.2 991.5L1079.0 994.1L1082.0 991.8L1080.3 989.0M1085.2 985.8L1086.6 988.8L1089.9 987.1L1088.8 984.0M1094.1 981.9L1095.0 985.1L1098.5 984.1L1097.9 980.9M1103.4 979.9L1103.7 983.2L1107.4 983.0L1107.3 979.7M1113.0 979.9L1112.7 983.2L1116.3 983.8L1116.8 980.5M1122.3 981.9L1121.4 985.1L1124.9 986.4L1126.0 983.3M1131.2 985.8L1129.8 988.8L1133.0 990.8L1134.5 987.9M1139.2 991.5L1137.4 994.1L1140.2 996.8L1142.2 994.3M1146.3 998.8L1144.0 1001.0L1146.3 1004.2L1148.8 1002.1M1152.0 1007.4L1149.4 1009.1L1151.1 1012.7L1153.9 1011.2M1156.2 1017.1L1153.3 1018.3L1154.5 1022.2L1157.5 1021.2M1158.8 1027.5L1155.8 1028.1L1156.3 1032.2L1159.4 1031.8"/>
<ellipse class="" cx="1107.2" cy="1039.0" rx="37.4" ry="41.3" fill="#fff" stroke="#111" stroke-width="4"/>
<ellipse class="k" cx="1107.7" cy="1039.0" rx="34.0" ry="37.7" />
<path class="k2" d="M1116.8 1044.9L1139.0 1053.8M1116.8 1044.9L1135.7 1060.4M1112.2 1049.9L1125.2 1071.3M1112.2 1049.9L1119.1 1074.5M1105.8 1050.8L1104.8 1076.6M1105.8 1050.8L1098.1 1075.2M1100.1 1047.3L1085.5 1067.5M1100.1 1047.3L1080.8 1062.1M1097.4 1040.7L1074.6 1047.7M1097.4 1040.7L1073.8 1040.3M1098.6 1033.5L1076.4 1024.6M1098.6 1033.5L1079.7 1018.0M1103.2 1028.5L1090.2 1007.1M1103.2 1028.5L1096.3 1003.9M1109.6 1027.6L1110.6 1001.8M1109.6 1027.6L1117.3 1003.2M1115.3 1031.1L1129.9 1010.9M1115.3 1031.1L1134.6 1016.3M1118.0 1037.7L1140.8 1030.7M1118.0 1037.7L1141.6 1038.1"/>
<ellipse class="k2" cx="1123.6" cy="1057.8" rx="9.7" ry="3.5" transform="rotate(50.2 1123.6 1057.8)"/>
<ellipse class="k2" cx="1110.7" cy="1064.6" rx="9.7" ry="3.5" transform="rotate(83.5 1110.7 1064.6)"/>
<ellipse class="k2" cx="1096.6" cy="1061.7" rx="9.7" ry="3.5" transform="rotate(115.7 1096.6 1061.7)"/>
<ellipse class="k2" cx="1086.7" cy="1050.2" rx="9.7" ry="3.5" transform="rotate(151.7 1086.7 1050.2)"/>
<ellipse class="k2" cx="1084.9" cy="1034.5" rx="9.7" ry="3.5" transform="rotate(-168.0 1084.9 1034.5)"/>
<ellipse class="k2" cx="1091.8" cy="1020.6" rx="9.7" ry="3.5" transform="rotate(-129.8 1091.8 1020.6)"/>
<ellipse class="k2" cx="1104.7" cy="1013.8" rx="9.7" ry="3.5" transform="rotate(-96.5 1104.7 1013.8)"/>
<ellipse class="k2" cx="1118.8" cy="1016.7" rx="9.7" ry="3.5" transform="rotate(-64.3 1118.8 1016.7)"/>
<ellipse class="k2" cx="1128.7" cy="1028.2" rx="9.7" ry="3.5" transform="rotate(-28.3 1128.7 1028.2)"/>
<ellipse class="k2" cx="1130.5" cy="1043.9" rx="9.7" ry="3.5" transform="rotate(12.0 1130.5 1043.9)"/>
<ellipse class="w2" cx="1119.3" cy="1066.0" rx="2.3" ry="2.6" />
<ellipse class="w2" cx="1081.0" cy="1043.1" rx="2.3" ry="2.6" />
<ellipse class="w2" cx="1112.6" cy="1010.0" rx="2.3" ry="2.6" />
<ellipse class="w2" cx="1131.4" cy="1053.3" rx="2.3" ry="2.6" />
<ellipse class="w2" cx="1107.7" cy="1039.2" rx="10.4" ry="11.2" />
<ellipse class="k2" cx="1107.7" cy="1039.2" rx="5.7" ry="6.2" />
<ellipse class="k" cx="1107.7" cy="1039.2" rx="3.4" ry="3.5" />
<path class="w" d="M1030 1016L1050 1020.700L1049 1025.300L1030 1020.600Z"/><path class="w" d="M1047 1019L1056 1021.500L1054.500 1027L1046 1024.500Z"/>
<circle class="b" cx="1165" cy="1055" r="5.400"/><circle cx="1165.300" cy="1055" r="2.700" fill="none" stroke="#fff" stroke-width="0.500"/>
<ellipse class="w2" cx="1206.4" cy="1065.8" rx="37.6" ry="42.2" />
<ellipse class="k2" cx="1206.9" cy="1065.8" rx="34.0" ry="38.2" />
<ellipse class="k" cx="1206.9" cy="1065.8" rx="32.4" ry="36.4" />
<path class="k2" d="M1236.7 1073.8Q1224.5 1071.6 1221.6 1074.0M1230.8 1087.6Q1221.7 1078.0 1221.6 1074.0M1228.3 1074.8Q1223.3 1075.0 1226.3 1079.4M1225.0 1094.0Q1216.9 1083.3 1213.4 1083.1M1212.7 1100.3Q1211.1 1086.2 1213.4 1083.1M1218.0 1088.5Q1214.1 1085.0 1213.8 1090.6M1204.7 1100.9Q1204.4 1086.8 1201.8 1084.1M1191.7 1096.8Q1198.3 1084.9 1201.8 1084.1M1202.3 1091.6Q1201.3 1086.1 1197.9 1090.2M1185.1 1091.5Q1192.9 1080.4 1192.4 1076.5M1177.5 1078.8Q1189.3 1074.6 1192.4 1076.5M1188.5 1082.6Q1190.9 1077.7 1185.9 1078.3M1175.5 1070.0Q1187.6 1067.3 1189.6 1063.9M1176.9 1054.8Q1188.3 1060.2 1189.6 1063.9M1183.1 1065.8Q1187.7 1063.7 1183.5 1060.6M1180.4 1046.5Q1191.2 1053.4 1194.6 1052.2M1190.0 1035.9Q1195.7 1048.4 1194.6 1052.2M1188.6 1049.0Q1193.3 1050.7 1191.9 1045.4M1197.4 1032.1Q1201.9 1045.3 1205.1 1046.9M1210.9 1031.0Q1208.2 1044.8 1205.1 1046.9M1202.4 1040.0Q1205.0 1044.8 1207.0 1039.6M1218.6 1033.4Q1214.7 1046.8 1216.3 1050.4M1229.6 1042.4Q1219.8 1051.0 1216.3 1050.4M1218.1 1043.2Q1217.4 1048.7 1221.8 1046.2M1234.2 1049.9Q1223.6 1057.2 1222.8 1061.1M1237.5 1064.7Q1225.1 1064.1 1222.8 1061.1M1228.3 1056.9Q1224.6 1060.6 1229.5 1061.9"/>
<ellipse class="w2" cx="1206.9" cy="1066.3" rx="10.2" ry="10.6" />
<path class="w" d="M1186 1030.500L1190.500 1028L1192 1030.500L1187.500 1033Z"/><path class="w" d="M1243 1059.500L1245.500 1060L1245 1064L1242.500 1063.500Z"/>
</g>
<!-- 15_small.svg -->
<g id="small">
<!-- 86 caps -->
<g id="cap86"><path class="w2" d="M201.200 714.500Q201.200 710.300 204 710.300Q206.800 710.300 206.800 714.500V719.500Q204 722 201.200 719.500Z"/><path class="k" d="M201.200 716Q204 717.500 206.800 716"/></g>
<use href="#cap86" x="17.300" y="55.300"/>
<!-- 85 rods -->
<path d="M148 744.700L206 736M159.300 762.700L218 753.300" stroke="#999" stroke-width="2.800" fill="none"/>
<path d="M155.300 743.500L198.700 737M167.300 761.400L210 754.700" stroke="#111" stroke-width="3.600" fill="none"/>
<path d="M156.300 743.400L197.700 737.200M168.300 761.300L209 754.900" stroke="#fff" stroke-width="1.300" fill="none"/>
<!-- 81 cover -->
<path class="w2" d="M246.700 726L254.700 720.700L276 718L288 722V726.700L262.700 730.700Z"/>
<path class="k2" d="M254.700 720.700L264 725L288 722M264 725L262.700 730.700M246.700 726L250 724.500L260 728.500L264 725M268 724.500V730"/>
<path d="M247 727L262.500 731.500" stroke="#111" stroke-width="2.400"/>
<!-- 82 -->
<path class="b" d="M253.300 739.300L264 738V736.500L268 736V738.500L272 738.300V745L264 746L253.700 746Z"/>
<path d="M255.500 740.800L258 740.500V744.500H255.500ZM265 742L270.500 741.500V743.500L265 744Z" fill="#fff"/>
<path class="k" d="M268 738.500L276 737.500"/>
<!-- 83 box -->
<path class="w2" d="M248.700 759.300L256 756L278.700 755.300L280 752.700L284 754L284.700 756.700L290.700 756L291.300 764.700L285.300 766.700L276 767.300L276.700 778L262.700 781.300L250 778Z"/>
<path class="k2" d="M248.700 759.300L262 762L276 760L278.700 755.300M262 762L262.700 781.300M268 761.500V767.500L276 767.300M268 767.500L269 780M284.700 756.700L285.300 766.700M276 760L285 759"/>
<path class="k3" d="M256 756L262 757.500L270 756.800"/>
<path class="k" d="M272 768V779M274.500 768V778.500"/>
<!-- 92 screws x3 -->
<g id="scr92"><path class="w2" d="M290.200 778Q290.200 776.500 291.700 776.500Q293.200 776.500 293.200 778V785H290.200Z"/><ellipse class="b" cx="291.700" cy="785.800" rx="3.300" ry="1.700"/></g>
<use href="#scr92" x="9.300" y="-0.700"/><use href="#scr92" x="16.600" y="-1.400"/>
<!-- 87 top pins -->
<path class="w2" d="M259.300 790Q259.300 788.500 260.700 788.500Q262.100 788.500 262.100 790V801H259.300ZM264.800 791.500Q264.800 790 266.200 790Q267.600 790 267.600 791.500V801H264.800Z"/>
<!-- 88 clip -->
<path class="w2" d="M163.500 861.500Q163.500 859.500 166 860L191 864.500Q193.500 865 193.500 867.500V889.500L189 891L166 886.500L163.500 884.500Z"/>
<path class="k2" d="M166 863V886.500M166 863L189 867.500V891M189 867.500L193.500 866"/>
<path class="b" d="M169 868.500L186 872V884.500L169 881Z"/><path d="M172 872L179 873.500V880.500L172 879Z" fill="#fff"/><path class="k" d="M176 874V878.500"/>
<!-- 89 screws -->
<g id="scr89"><path d="M187 919.500L195 918.500" stroke="#111" stroke-width="2" stroke-linecap="round" fill="none"/><ellipse class="w2" cx="186.700" cy="919.600" rx="1.300" ry="2.300"/></g>
<use href="#scr89" x="0" y="7.800"/>
</g>
<!-- 80_labels.svg -->
<g id="labels" class="gs">
<path class="ld" d="M43.3 433.4L88.0 448.0M64.0 332.6L154.0 372.0M106.2 302.0L188.0 353.0M138.1 279.5L201.0 345.0M166.4 253.8L230.0 312.0M132.0 174.8L216.0 258.0M162.8 164.0L256.7 270.7M195.0 149.2L236.7 192.7M224.2 138.2L274.0 224.0M253.6 126.8L311.7 266.7M284.5 114.2L351.7 313.3M321.1 98.7L349.3 133.3M350.6 87.4L406.0 181.7M388.0 66.9L432.3 94.3M559.2 68.1L572.0 289.0M591.8 68.1L587.3 274.0M622.1 67.5L606.7 122.5M660.0 159.0L624.0 206.0M696.6 159.6L644.0 238.3M735.4 161.5L705.7 248.3M772.8 162.2L758.3 266.7M806.3 162.1L787.3 265.0M839.6 162.0L813.3 276.7M875.6 162.3L858.3 298.3M909.7 162.3L893.3 293.3M942.3 161.8L916.7 255.0M978.6 162.3L973.3 221.7M1013.5 162.4L1016.7 233.3M1049.7 162.3L1059.3 241.7M1083.2 162.3L1096.7 263.3M1086.5 161.4L1120.7 256.7M1118.7 162.0L1140.7 256.7M1152.2 162.1L1171.7 261.7M1182.6 162.4L1184.0 256.7M1215.0 162.4L1215.0 208.3M1248.1 162.4L1247.3 231.7M1281.0 162.4L1278.3 230.0M1316.0 162.4L1316.0 223.3M1347.0 162.2L1338.3 223.3M1378.9 161.6L1360.0 220.0M1413.7 161.4L1403.3 190.0M1090.0 336.9L1090.0 265.0M1121.8 330.9L1107.3 276.7M1174.0 413.8L1144.2 450.8M1209.3 410.1L1145.0 485.0M1259.9 410.9L1262.5 470.0M1328.8 405.6L1329.2 445.0M1005.9 387.8L1019.0 422.0M966.1 393.1L972.0 485.0M934.9 396.2L947.0 479.0M903.8 397.8L930.0 471.7M872.5 398.3L905.0 451.7M837.2 400.5L877.0 462.0M743.6 419.1L735.7 388.3M550.5 457.8L594.3 334.3M581.7 461.1L603.3 333.3M616.6 468.7L630.0 330.0M654.3 475.5L676.7 338.3M688.6 480.3L690.0 403.3M1071.8 602.4L1051.7 526.7M1116.9 598.0L1125.0 526.7M1148.3 594.5L1138.3 535.0M1183.7 591.2L1175.0 545.0M1233.6 584.4L1211.7 516.7M1271.9 580.8L1246.7 483.3M1310.3 574.4L1303.3 490.8M1347.8 568.6L1345.8 494.2M1382.5 565.7L1365.0 484.2M1423.5 561.2L1410.0 494.2M1467.4 555.5L1457.5 494.2M809.9 534.6L966.7 572.5M773.0 543.3L823.0 581.7M738.9 548.8L866.7 643.3M703.0 555.2L801.7 646.7M659.3 564.6L713.3 735.0M625.3 567.5L680.0 700.0M544.5 604.5L475.0 496.0M544.1 654.5L453.0 579.0M549.3 701.2L458.0 636.0M589.2 753.2L630.0 736.7M590.4 759.0L810.0 755.0M769.6 825.0L810.0 769.3M778.2 869.2L811.7 860.7M42.7 536.3L136.0 490.0M56.6 564.3L158.7 490.0M71.2 595.0L180.0 515.0M89.3 626.8L220.7 546.7M106.8 651.7L237.3 546.7M127.4 679.2L365.0 445.0M361.9 695.0L288.7 722.0M363.8 725.5L272.0 741.3M365.5 759.4L278.7 774.0M370.0 794.8L296.0 817.3M137.4 747.0L178.7 759.3M138.1 780.5L218.7 774.3M205.0 792.7L310.0 779.5M139.1 825.5L263.3 822.0M140.2 880.4L175.3 875.3M140.3 925.9L185.3 920.0M140.4 927.8L185.3 927.3M146.4 1002.1L235.0 997.0M562.5 1123.2L598.3 1078.3M568.3 1132.3L673.3 1108.3M716.0 1131.0L695.0 1121.7M762.6 1122.0L739.3 1045.0M774.0 1122.7L795.0 1076.0M814.0 1122.0L886.0 978.0M864.1 1122.0L905.0 988.0M927.4 1120.8L958.0 1003.0M1047.0 1123.2L1080.0 1075.0M1126.0 1120.8L1163.3 1056.7M1179.6 1122.6L1196.7 1088.3M214.8 383.1L247.0 342.0"/>
<path class="ld" d="M476.7 71.7H501.7L506.7 67.5L511.7 72H527.5L559.3 316.7"/>
<circle class="lc" cx="27.7" cy="428.3" r="16.4"/>
<circle class="lc" cx="49.0" cy="326.0" r="16.4"/>
<circle class="lc" cx="92.3" cy="293.3" r="16.4"/>
<circle class="lc" cx="126.7" cy="267.7" r="16.4"/>
<circle class="lc" cx="154.3" cy="242.7" r="16.4"/>
<circle class="lc" cx="120.3" cy="163.3" r="16.4"/>
<circle class="lc" cx="152.0" cy="151.7" r="16.4"/>
<circle class="lc" cx="183.7" cy="137.3" r="16.4"/>
<circle class="lc" cx="216.0" cy="124.0" r="16.4"/>
<circle class="lc" cx="247.3" cy="111.7" r="16.4"/>
<circle class="lc" cx="279.3" cy="98.7" r="16.4"/>
<circle class="lc" cx="310.7" cy="86.0" r="16.4"/>
<circle class="lc" cx="342.3" cy="73.3" r="16.4"/>
<circle class="lc" cx="374.0" cy="58.3" r="16.4"/>
<circle class="lc" cx="490.0" cy="51.7" r="16.4"/>
<circle class="lc" cx="524.3" cy="51.7" r="16.4"/>
<circle class="lc" cx="558.2" cy="51.7" r="16.4"/>
<circle class="lc" cx="592.2" cy="51.7" r="16.4"/>
<circle class="lc" cx="626.5" cy="51.7" r="16.4"/>
<circle class="lc" cx="670.0" cy="146.0" r="16.4"/>
<circle class="lc" cx="705.7" cy="146.0" r="16.4"/>
<circle class="lc" cx="740.7" cy="146.0" r="16.4"/>
<circle class="lc" cx="775.0" cy="146.0" r="16.4"/>
<circle class="lc" cx="809.3" cy="146.0" r="16.4"/>
<circle class="lc" cx="843.3" cy="146.0" r="16.4"/>
<circle class="lc" cx="877.7" cy="146.0" r="16.4"/>
<circle class="lc" cx="911.7" cy="146.0" r="16.4"/>
<circle class="lc" cx="946.7" cy="146.0" r="16.4"/>
<circle class="lc" cx="980.0" cy="146.0" r="16.4"/>
<circle class="lc" cx="1012.7" cy="146.0" r="16.4"/>
<circle class="lc" cx="1047.7" cy="146.0" r="16.4"/>
<circle class="lc" cx="1081.0" cy="146.0" r="16.4"/>
<circle class="lc" cx="1115.0" cy="146.0" r="16.4"/>
<circle class="lc" cx="1149.0" cy="146.0" r="16.4"/>
<circle class="lc" cx="1182.3" cy="146.0" r="16.4"/>
<circle class="lc" cx="1215.0" cy="146.0" r="16.4"/>
<circle class="lc" cx="1248.3" cy="146.0" r="16.4"/>
<circle class="lc" cx="1281.7" cy="146.0" r="16.4"/>
<circle class="lc" cx="1316.0" cy="146.0" r="16.4"/>
<circle class="lc" cx="1349.3" cy="146.0" r="16.4"/>
<circle class="lc" cx="1384.0" cy="146.0" r="16.4"/>
<circle class="lc" cx="1419.3" cy="146.0" r="16.4"/>
<circle class="lc" cx="1090.0" cy="353.3" r="16.4"/>
<circle class="lc" cx="1126.0" cy="346.7" r="16.4"/>
<circle class="lc" cx="1184.3" cy="401.0" r="16.4"/>
<circle class="lc" cx="1220.0" cy="397.7" r="16.4"/>
<circle class="lc" cx="1259.2" cy="394.5" r="16.4"/>
<circle class="lc" cx="1328.7" cy="389.2" r="16.4"/>
<circle class="lc" cx="1000.0" cy="372.5" r="16.4"/>
<circle class="lc" cx="965.0" cy="376.7" r="16.4"/>
<circle class="lc" cx="932.5" cy="380.0" r="16.4"/>
<circle class="lc" cx="898.3" cy="382.3" r="16.4"/>
<circle class="lc" cx="864.0" cy="384.3" r="16.4"/>
<circle class="lc" cx="828.3" cy="386.7" r="16.4"/>
<circle class="lc" cx="747.7" cy="435.0" r="16.4"/>
<circle class="lc" cx="545.0" cy="473.3" r="16.4"/>
<circle class="lc" cx="579.0" cy="477.3" r="16.4"/>
<circle class="lc" cx="615.0" cy="485.0" r="16.4"/>
<circle class="lc" cx="651.7" cy="491.7" r="16.4"/>
<circle class="lc" cx="688.3" cy="496.7" r="16.4"/>
<circle class="lc" cx="1076.0" cy="618.3" r="16.4"/>
<circle class="lc" cx="1115.0" cy="614.3" r="16.4"/>
<circle class="lc" cx="1151.0" cy="610.7" r="16.4"/>
<circle class="lc" cx="1186.7" cy="607.3" r="16.4"/>
<circle class="lc" cx="1238.7" cy="600.0" r="16.4"/>
<circle class="lc" cx="1276.0" cy="596.7" r="16.4"/>
<circle class="lc" cx="1311.7" cy="590.7" r="16.4"/>
<circle class="lc" cx="1348.3" cy="585.0" r="16.4"/>
<circle class="lc" cx="1386.0" cy="581.7" r="16.4"/>
<circle class="lc" cx="1426.7" cy="577.3" r="16.4"/>
<circle class="lc" cx="1470.0" cy="571.7" r="16.4"/>
<circle class="lc" cx="794.0" cy="530.7" r="16.4"/>
<circle class="lc" cx="760.0" cy="533.3" r="16.4"/>
<circle class="lc" cx="725.7" cy="539.0" r="16.4"/>
<circle class="lc" cx="691.0" cy="544.0" r="16.4"/>
<circle class="lc" cx="654.3" cy="549.0" r="16.4"/>
<circle class="lc" cx="619.0" cy="552.3" r="16.4"/>
<circle class="lc" cx="553.3" cy="618.3" r="16.4"/>
<circle class="lc" cx="556.7" cy="665.0" r="16.4"/>
<circle class="lc" cx="562.7" cy="710.7" r="16.4"/>
<circle class="lc" cx="574.0" cy="759.3" r="16.4"/>
<circle class="lc" cx="760.0" cy="838.3" r="16.4"/>
<circle class="lc" cx="762.3" cy="873.3" r="16.4"/>
<circle class="lc" cx="28.0" cy="543.6" r="16.4"/>
<circle class="lc" cx="43.3" cy="574.0" r="16.4"/>
<circle class="lc" cx="58.0" cy="604.7" r="16.4"/>
<circle class="lc" cx="75.3" cy="635.3" r="16.4"/>
<circle class="lc" cx="94.0" cy="662.0" r="16.4"/>
<circle class="lc" cx="115.7" cy="690.7" r="16.4"/>
<circle class="lc" cx="377.3" cy="689.3" r="16.4"/>
<circle class="lc" cx="380.0" cy="722.7" r="16.4"/>
<circle class="lc" cx="381.7" cy="756.7" r="16.4"/>
<circle class="lc" cx="385.7" cy="790.0" r="16.4"/>
<circle class="lc" cx="121.7" cy="742.3" r="16.4"/>
<circle class="lc" cx="121.7" cy="781.7" r="16.4"/>
<circle class="lc" cx="188.7" cy="794.7" r="16.4"/>
<circle class="lc" cx="122.7" cy="826.0" r="16.4"/>
<circle class="lc" cx="124.0" cy="882.7" r="16.4"/>
<circle class="lc" cx="124.0" cy="928.0" r="16.4"/>
<circle class="lc" cx="130.0" cy="1003.0" r="16.4"/>
<circle class="lc" cx="552.3" cy="1136.0" r="16.4"/>
<circle class="lc" cx="731.0" cy="1137.7" r="16.4"/>
<circle class="lc" cx="767.3" cy="1137.7" r="16.4"/>
<circle class="lc" cx="806.7" cy="1136.7" r="16.4"/>
<circle class="lc" cx="859.3" cy="1137.7" r="16.4"/>
<circle class="lc" cx="923.3" cy="1136.7" r="16.4"/>
<circle class="lc" cx="1037.7" cy="1136.7" r="16.4"/>
<circle class="lc" cx="1117.7" cy="1135.0" r="16.4"/>
<circle class="lc" cx="1172.3" cy="1137.3" r="16.4"/>
<circle class="lc" cx="204.7" cy="396.0" r="16.4"/>
<text class="ln" x="27.7" y="437.9" textLength="12.3" lengthAdjust="spacingAndGlyphs">1</text>
<text class="ln" x="49.0" y="335.6" textLength="12.3" lengthAdjust="spacingAndGlyphs">2</text>
<text class="ln" x="92.3" y="302.9" textLength="12.3" lengthAdjust="spacingAndGlyphs">3</text>
<text class="ln" x="126.7" y="277.3" textLength="12.3" lengthAdjust="spacingAndGlyphs">4</text>
<text class="ln" x="154.3" y="252.3" textLength="12.3" lengthAdjust="spacingAndGlyphs">5</text>
<text class="ln" x="120.3" y="172.9" textLength="12.3" lengthAdjust="spacingAndGlyphs">6</text>
<text class="ln" x="152.0" y="161.3" textLength="12.3" lengthAdjust="spacingAndGlyphs">7</text>
<text class="ln" x="183.7" y="146.9" textLength="12.3" lengthAdjust="spacingAndGlyphs">8</text>
<text class="ln" x="216.0" y="133.6" textLength="12.3" lengthAdjust="spacingAndGlyphs">9</text>
<text class="ln" x="247.3" y="121.3" textLength="24.6" lengthAdjust="spacingAndGlyphs">10</text>
<text class="ln" x="279.3" y="108.3" textLength="24.6" lengthAdjust="spacingAndGlyphs">11</text>
<text class="ln" x="310.7" y="95.6" textLength="24.6" lengthAdjust="spacingAndGlyphs">12</text>
<text class="ln" x="342.3" y="82.9" textLength="24.6" lengthAdjust="spacingAndGlyphs">13</text>
<text class="ln" x="374.0" y="67.9" textLength="24.6" lengthAdjust="spacingAndGlyphs">14</text>
<text class="ln" x="490.0" y="61.3" textLength="24.6" lengthAdjust="spacingAndGlyphs">15</text>
<text class="ln" x="524.3" y="61.3" textLength="24.6" lengthAdjust="spacingAndGlyphs">16</text>
<text class="ln" x="558.2" y="61.3" textLength="24.6" lengthAdjust="spacingAndGlyphs">17</text>
<text class="ln" x="592.2" y="61.3" textLength="24.6" lengthAdjust="spacingAndGlyphs">18</text>
<text class="ln" x="626.5" y="61.3" textLength="24.6" lengthAdjust="spacingAndGlyphs">19</text>
<text class="ln" x="670.0" y="155.6" textLength="24.6" lengthAdjust="spacingAndGlyphs">20</text>
<text class="ln" x="705.7" y="155.6" textLength="24.6" lengthAdjust="spacingAndGlyphs">21</text>
<text class="ln" x="740.7" y="155.6" textLength="24.6" lengthAdjust="spacingAndGlyphs">27</text>
<text class="ln" x="775.0" y="155.6" textLength="24.6" lengthAdjust="spacingAndGlyphs">28</text>
<text class="ln" x="809.3" y="155.6" textLength="24.6" lengthAdjust="spacingAndGlyphs">29</text>
<text class="ln" x="843.3" y="155.6" textLength="24.6" lengthAdjust="spacingAndGlyphs">30</text>
<text class="ln" x="877.7" y="155.6" textLength="24.6" lengthAdjust="spacingAndGlyphs">31</text>
<text class="ln" x="911.7" y="155.6" textLength="24.6" lengthAdjust="spacingAndGlyphs">32</text>
<text class="ln" x="946.7" y="155.6" textLength="24.6" lengthAdjust="spacingAndGlyphs">33</text>
<text class="ln" x="980.0" y="155.6" textLength="24.6" lengthAdjust="spacingAndGlyphs">34</text>
<text class="ln" x="1012.7" y="155.6" textLength="24.6" lengthAdjust="spacingAndGlyphs">35</text>
<text class="ln" x="1047.7" y="155.6" textLength="24.6" lengthAdjust="spacingAndGlyphs">36</text>
<text class="ln" x="1081.0" y="155.6" textLength="24.6" lengthAdjust="spacingAndGlyphs">39</text>
<text class="ln" x="1115.0" y="155.6" textLength="24.6" lengthAdjust="spacingAndGlyphs">40</text>
<text class="ln" x="1149.0" y="155.6" textLength="24.6" lengthAdjust="spacingAndGlyphs">41</text>
<text class="ln" x="1182.3" y="155.6" textLength="24.6" lengthAdjust="spacingAndGlyphs">42</text>
<text class="ln" x="1215.0" y="155.6" textLength="24.6" lengthAdjust="spacingAndGlyphs">43</text>
<text class="ln" x="1248.3" y="155.6" textLength="24.6" lengthAdjust="spacingAndGlyphs">44</text>
<text class="ln" x="1281.7" y="155.6" textLength="24.6" lengthAdjust="spacingAndGlyphs">45</text>
<text class="ln" x="1316.0" y="155.6" textLength="24.6" lengthAdjust="spacingAndGlyphs">46</text>
<text class="ln" x="1349.3" y="155.6" textLength="24.6" lengthAdjust="spacingAndGlyphs">47</text>
<text class="ln" x="1384.0" y="155.6" textLength="24.6" lengthAdjust="spacingAndGlyphs">48</text>
<text class="ln" x="1419.3" y="155.6" textLength="24.6" lengthAdjust="spacingAndGlyphs">49</text>
<text class="ln" x="1090.0" y="362.9" textLength="24.6" lengthAdjust="spacingAndGlyphs">37</text>
<text class="ln" x="1126.0" y="356.3" textLength="24.6" lengthAdjust="spacingAndGlyphs">38</text>
<text class="ln" x="1184.3" y="410.6" textLength="24.6" lengthAdjust="spacingAndGlyphs">60</text>
<text class="ln" x="1220.0" y="407.3" textLength="24.6" lengthAdjust="spacingAndGlyphs">59</text>
<text class="ln" x="1259.2" y="404.1" textLength="24.6" lengthAdjust="spacingAndGlyphs">58</text>
<text class="ln" x="1328.7" y="398.8" textLength="24.6" lengthAdjust="spacingAndGlyphs">54</text>
<text class="ln" x="1000.0" y="382.1" textLength="24.6" lengthAdjust="spacingAndGlyphs">65</text>
<text class="ln" x="965.0" y="386.3" textLength="24.6" lengthAdjust="spacingAndGlyphs">66</text>
<text class="ln" x="932.5" y="389.6" textLength="24.6" lengthAdjust="spacingAndGlyphs">67</text>
<text class="ln" x="898.3" y="391.9" textLength="24.6" lengthAdjust="spacingAndGlyphs">68</text>
<text class="ln" x="864.0" y="393.9" textLength="24.6" lengthAdjust="spacingAndGlyphs">69</text>
<text class="ln" x="828.3" y="396.3" textLength="24.6" lengthAdjust="spacingAndGlyphs">70</text>
<text class="ln" x="747.7" y="444.6" textLength="24.6" lengthAdjust="spacingAndGlyphs">92</text>
<text class="ln" x="545.0" y="482.9" textLength="24.6" lengthAdjust="spacingAndGlyphs">22</text>
<text class="ln" x="579.0" y="486.9" textLength="24.6" lengthAdjust="spacingAndGlyphs">23</text>
<text class="ln" x="615.0" y="494.6" textLength="24.6" lengthAdjust="spacingAndGlyphs">24</text>
<text class="ln" x="651.7" y="501.3" textLength="24.6" lengthAdjust="spacingAndGlyphs">25</text>
<text class="ln" x="688.3" y="506.3" textLength="24.6" lengthAdjust="spacingAndGlyphs">26</text>
<text class="ln" x="1076.0" y="627.9" textLength="24.6" lengthAdjust="spacingAndGlyphs">64</text>
<text class="ln" x="1115.0" y="623.9" textLength="24.6" lengthAdjust="spacingAndGlyphs">63</text>
<text class="ln" x="1151.0" y="620.3" textLength="24.6" lengthAdjust="spacingAndGlyphs">62</text>
<text class="ln" x="1186.7" y="616.9" textLength="24.6" lengthAdjust="spacingAndGlyphs">61</text>
<text class="ln" x="1238.7" y="609.6" textLength="24.6" lengthAdjust="spacingAndGlyphs">57</text>
<text class="ln" x="1276.0" y="606.3" textLength="24.6" lengthAdjust="spacingAndGlyphs">56</text>
<text class="ln" x="1311.7" y="600.3" textLength="24.6" lengthAdjust="spacingAndGlyphs">55</text>
<text class="ln" x="1348.3" y="594.6" textLength="24.6" lengthAdjust="spacingAndGlyphs">53</text>
<text class="ln" x="1386.0" y="591.3" textLength="24.6" lengthAdjust="spacingAndGlyphs">52</text>
<text class="ln" x="1426.7" y="586.9" textLength="24.6" lengthAdjust="spacingAndGlyphs">51</text>
<text class="ln" x="1470.0" y="581.3" textLength="24.6" lengthAdjust="spacingAndGlyphs">50</text>
<text class="ln" x="794.0" y="540.3" textLength="24.6" lengthAdjust="spacingAndGlyphs">71</text>
<text class="ln" x="760.0" y="542.9" textLength="24.6" lengthAdjust="spacingAndGlyphs">72</text>
<text class="ln" x="725.7" y="548.6" textLength="24.6" lengthAdjust="spacingAndGlyphs">73</text>
<text class="ln" x="691.0" y="553.6" textLength="24.6" lengthAdjust="spacingAndGlyphs">74</text>
<text class="ln" x="654.3" y="558.6" textLength="24.6" lengthAdjust="spacingAndGlyphs">75</text>
<text class="ln" x="619.0" y="561.9" textLength="24.6" lengthAdjust="spacingAndGlyphs">76</text>
<text class="ln" x="553.3" y="627.9" textLength="24.6" lengthAdjust="spacingAndGlyphs">77</text>
<text class="ln" x="556.7" y="674.6" textLength="24.6" lengthAdjust="spacingAndGlyphs">78</text>
<text class="ln" x="562.7" y="720.3" textLength="24.6" lengthAdjust="spacingAndGlyphs">79</text>
<text class="ln" x="574.0" y="768.9" textLength="24.6" lengthAdjust="spacingAndGlyphs">80</text>
<text class="ln" x="760.0" y="845.9" style="font-size:20px" textLength="27.5" lengthAdjust="spacingAndGlyphs">101</text>
<text class="ln" x="762.3" y="880.9" style="font-size:20px" textLength="27.5" lengthAdjust="spacingAndGlyphs">100</text>
<text class="ln" x="28.0" y="551.2" style="font-size:20px" textLength="27.5" lengthAdjust="spacingAndGlyphs">107</text>
<text class="ln" x="43.3" y="581.6" style="font-size:20px" textLength="27.5" lengthAdjust="spacingAndGlyphs">106</text>
<text class="ln" x="58.0" y="612.3" style="font-size:20px" textLength="27.5" lengthAdjust="spacingAndGlyphs">105</text>
<text class="ln" x="75.3" y="642.9" style="font-size:20px" textLength="27.5" lengthAdjust="spacingAndGlyphs">104</text>
<text class="ln" x="94.0" y="669.6" style="font-size:20px" textLength="27.5" lengthAdjust="spacingAndGlyphs">103</text>
<text class="ln" x="115.7" y="698.3" style="font-size:20px" textLength="27.5" lengthAdjust="spacingAndGlyphs">102</text>
<text class="ln" x="377.3" y="698.9" textLength="24.6" lengthAdjust="spacingAndGlyphs">81</text>
<text class="ln" x="380.0" y="732.3" textLength="24.6" lengthAdjust="spacingAndGlyphs">82</text>
<text class="ln" x="381.7" y="766.3" textLength="24.6" lengthAdjust="spacingAndGlyphs">83</text>
<text class="ln" x="385.7" y="799.6" textLength="24.6" lengthAdjust="spacingAndGlyphs">84</text>
<text class="ln" x="121.7" y="751.9" textLength="24.6" lengthAdjust="spacingAndGlyphs">85</text>
<text class="ln" x="121.7" y="791.3" textLength="24.6" lengthAdjust="spacingAndGlyphs">86</text>
<text class="ln" x="188.7" y="804.3" textLength="24.6" lengthAdjust="spacingAndGlyphs">92</text>
<text class="ln" x="122.7" y="835.6" textLength="24.6" lengthAdjust="spacingAndGlyphs">87</text>
<text class="ln" x="124.0" y="892.3" textLength="24.6" lengthAdjust="spacingAndGlyphs">88</text>
<text class="ln" x="124.0" y="937.6" textLength="24.6" lengthAdjust="spacingAndGlyphs">89</text>
<text class="ln" x="130.0" y="1012.6" textLength="24.6" lengthAdjust="spacingAndGlyphs">90</text>
<text class="ln" x="552.3" y="1145.6" textLength="24.6" lengthAdjust="spacingAndGlyphs">91</text>
<text class="ln" x="731.0" y="1147.3" textLength="24.6" lengthAdjust="spacingAndGlyphs">92</text>
<text class="ln" x="767.3" y="1147.3" textLength="24.6" lengthAdjust="spacingAndGlyphs">93</text>
<text class="ln" x="806.7" y="1146.3" textLength="24.6" lengthAdjust="spacingAndGlyphs">94</text>
<text class="ln" x="859.3" y="1147.3" textLength="24.6" lengthAdjust="spacingAndGlyphs">95</text>
<text class="ln" x="923.3" y="1146.3" textLength="24.6" lengthAdjust="spacingAndGlyphs">96</text>
<text class="ln" x="1037.7" y="1146.3" textLength="24.6" lengthAdjust="spacingAndGlyphs">97</text>
<text class="ln" x="1117.7" y="1144.6" textLength="24.6" lengthAdjust="spacingAndGlyphs">98</text>
<text class="ln" x="1172.3" y="1146.9" textLength="24.6" lengthAdjust="spacingAndGlyphs">99</text>
<text class="ln" x="204.7" y="405.6" textLength="24.6" lengthAdjust="spacingAndGlyphs">92</text>
</g>
<!-- 90_footer.svg -->
<g id="footer">
<line x1="0" y1="1371.5" x2="1500" y2="1371.5" stroke="#1a1a1a" stroke-width="1.2"/>
<rect x="31" y="1406" width="215.3" height="59.6" fill="#808084"/>
<path d="M66.4 1417 L85.3 1436.1 L66.4 1455.2 L56.2 1445 L70 1445 Q73.5 1445 73.5 1441.8 Q73.5 1438.6 71.2 1438.1 Q73.5 1437.6 73.5 1434.5 Q73.5 1427.4 70 1427.4 L56 1427.4 Z" fill="#fff"/>
<path d="M49 1428.6 H66.5 M48.5 1436.1 H66 M49 1443.6 H66.5" stroke="#fff" stroke-width="3.6" stroke-linecap="round" fill="none"/>
<text class="gs" x="0" y="0" transform="translate(93.2 1448.8) scale(1.455 1)" font-family="'Liberation Sans',sans-serif" font-weight="bold" font-size="36.5" fill="#fff" stroke="#fff" stroke-width="1.6" stroke-linejoin="round">ЗУБР</text>
<text id="ft1" class="gs" x="289" y="1450.3" font-family="'Liberation Sans',sans-serif" font-size="36.3" fill="#111" textLength="222" lengthAdjust="spacingAndGlyphs">ЗИЭ-44-2800.</text>
<text id="ft2" class="gs" x="522" y="1450.3" font-family="'Liberation Sans',sans-serif" font-size="36.3" fill="#111" stroke="#fff" stroke-width="0.7" textLength="709" lengthAdjust="spacingAndGlyphs">Схема 1-1 (Схема-состав. Измельчитель садовый)</text>
</g>
</svg>
</body></html>
